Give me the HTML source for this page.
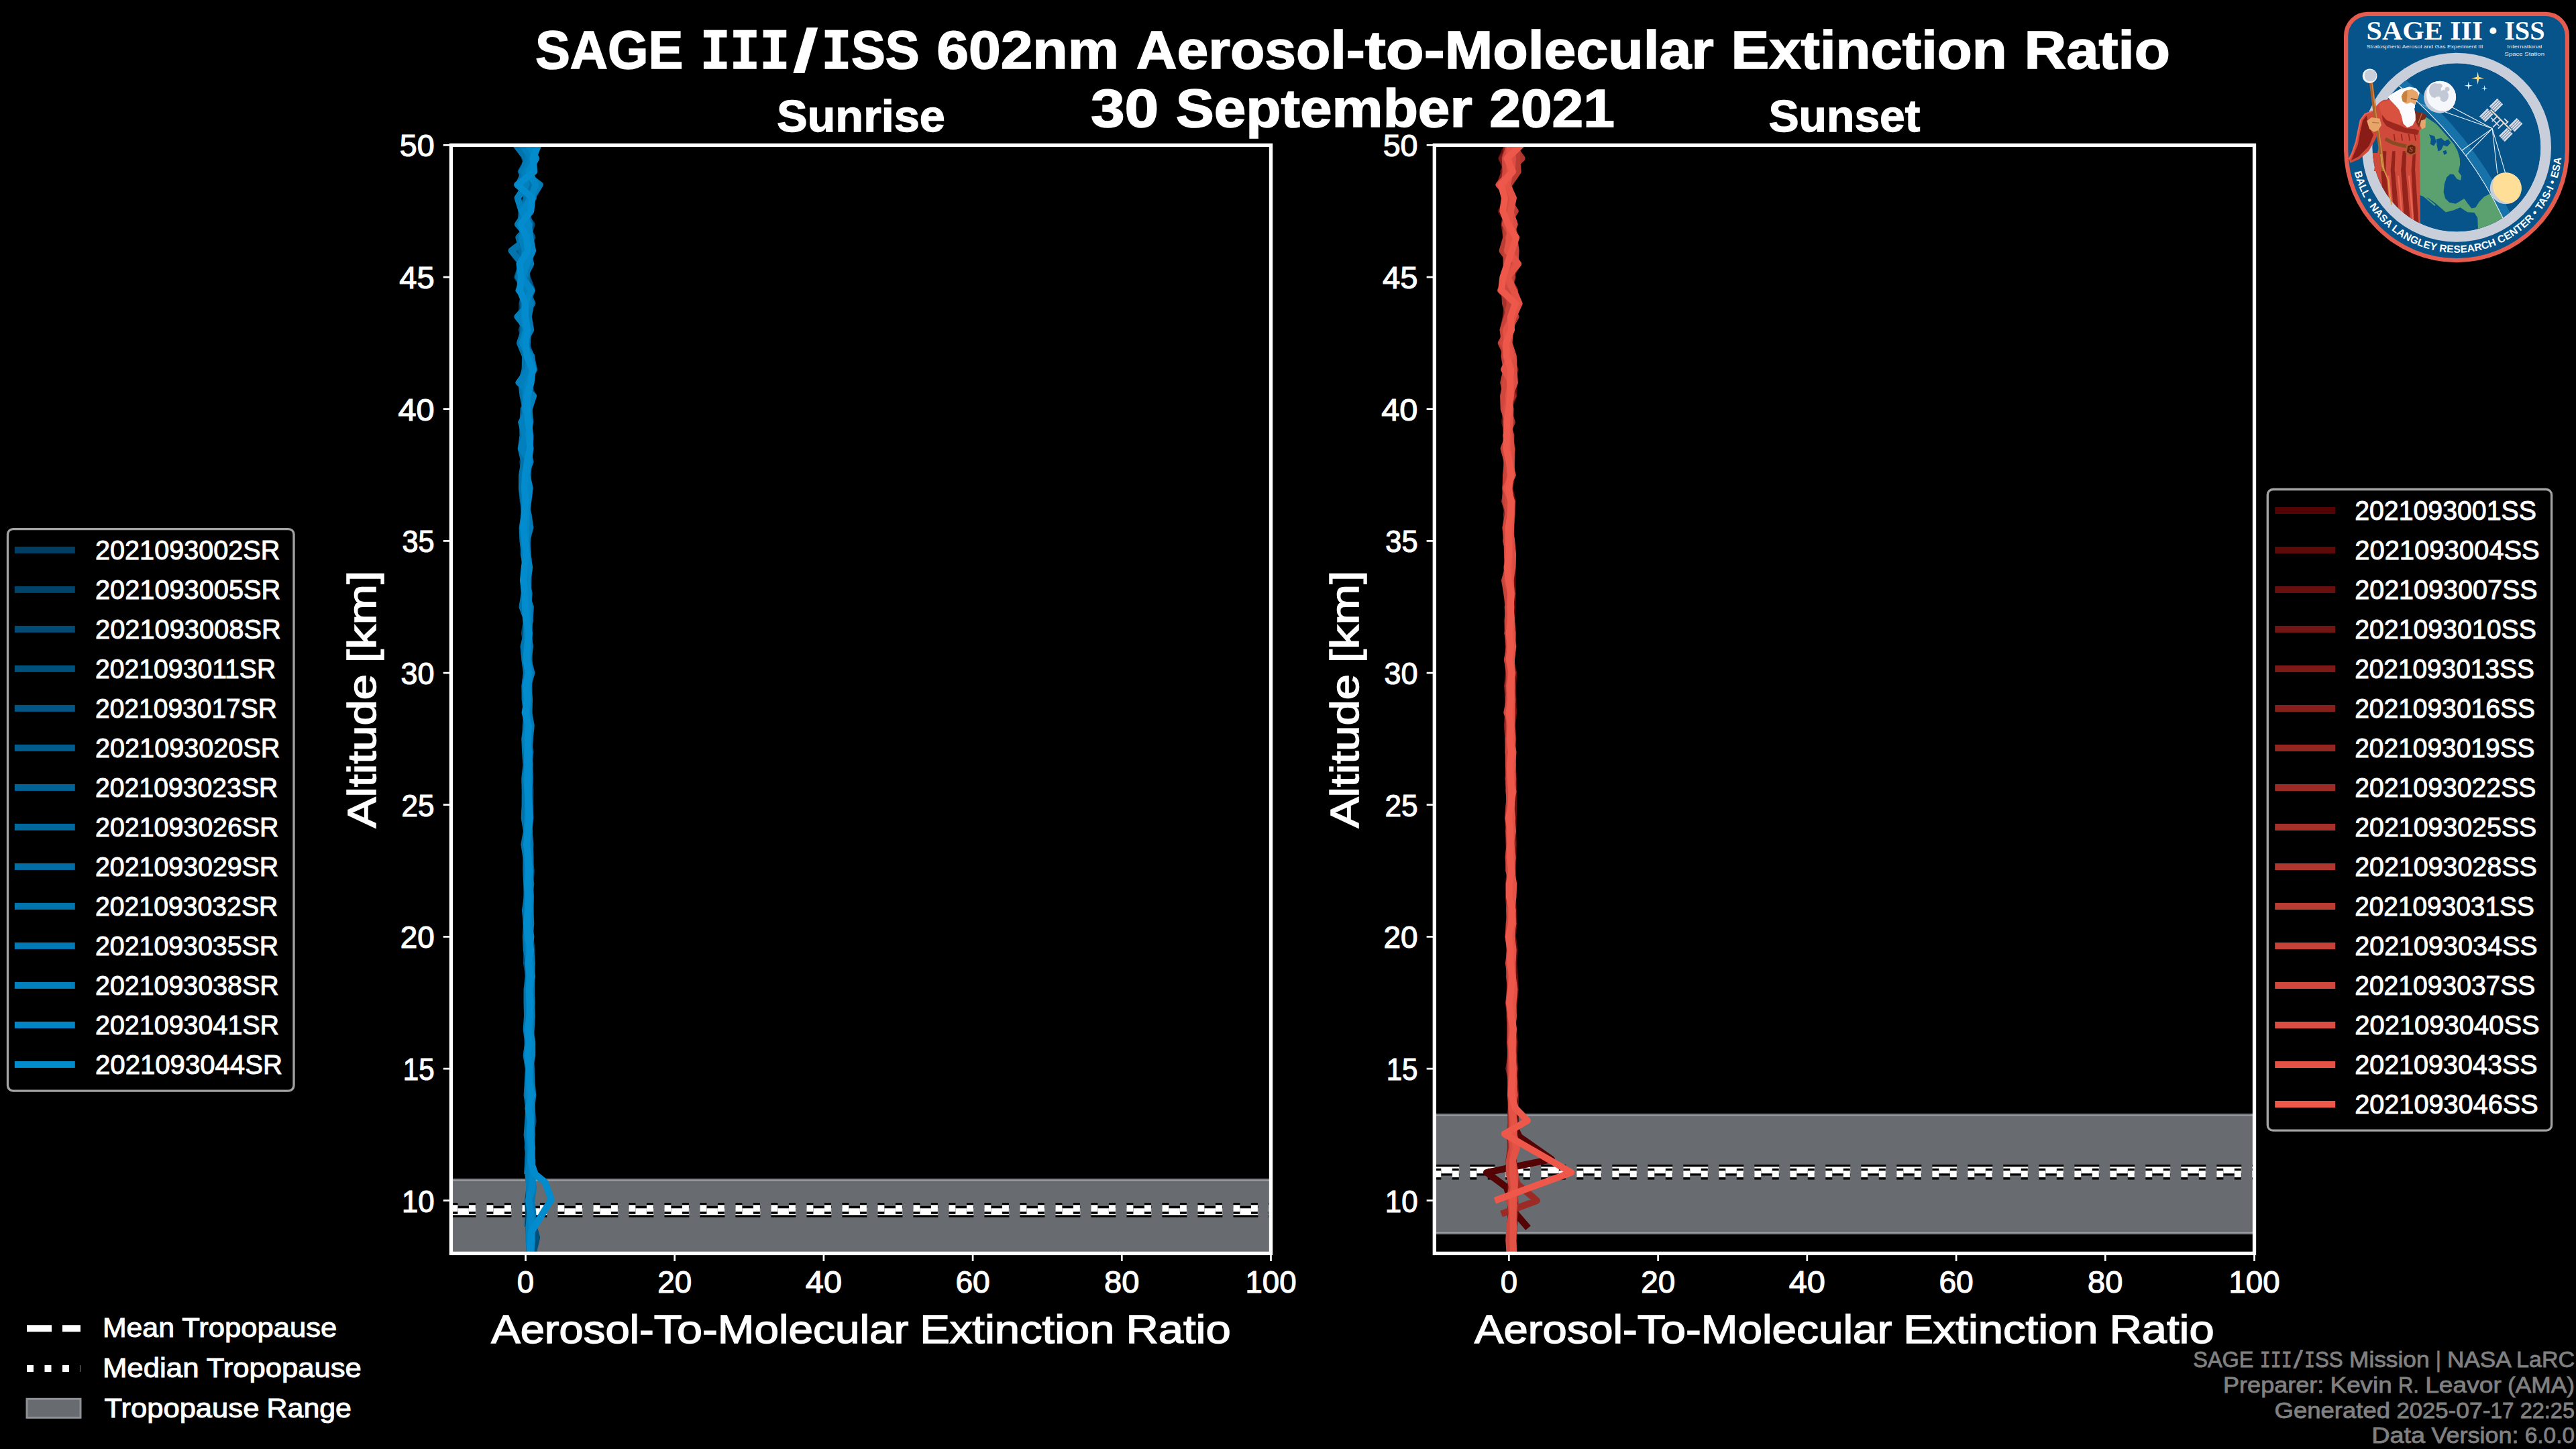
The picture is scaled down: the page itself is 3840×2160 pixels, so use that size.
<!DOCTYPE html>
<html lang="en"><head><meta charset="utf-8"><title>SAGE III/ISS 602nm Aerosol-to-Molecular Extinction Ratio</title>
<style>html,body{margin:0;padding:0;background:#000;overflow:hidden}svg{display:block}</style></head>
<body>
<svg width="3840" height="2160" viewBox="0 0 3840 2160" font-family='"Liberation Sans", sans-serif'>
<rect width="3840" height="2160" fill="#000"/>
<defs>
<clipPath id="c0"><rect x="672.4" y="216.4" width="1222.1" height="1652.0"/></clipPath>
<clipPath id="c1"><rect x="2138.3" y="216.4" width="1222.2" height="1652.0"/></clipPath>
</defs>
<g clip-path="url(#c0)">
<rect x="672.4" y="1756.8" width="1222.1" height="200" fill="#686b70"/>
<rect x="672.4" y="1758.5" width="1222.1" height="1.8" fill="#9da1a5"/>
<path d="M672.4 1806.2 H1894.5" stroke="#000" stroke-width="16.67" stroke-dasharray="37 16"/>
<path d="M672.4 1806.2 H1894.5" stroke="#fff" stroke-width="10" stroke-dasharray="37 16"/>
<path d="M672.4 1801.3 H1894.5" stroke="#000" stroke-width="16.67" stroke-dasharray="10 16.5"/>
<path d="M672.4 1801.3 H1894.5" stroke="#fff" stroke-width="10" stroke-dasharray="10 16.5"/>
<g fill="none" stroke-width="10" stroke-linejoin="round" stroke-linecap="butt">
<path d="M789.9 1868.4 L789.3 1848.7 L788.2 1829.1 L790.5 1809.4 L788.9 1789.7 L791.5 1770.1 L790.2 1750.4 L790.5 1730.7 L789.8 1711.1 L789.8 1691.4 L790.7 1671.7 L788.3 1652.1 L790.1 1632.4 L789.6 1612.7 L789.4 1593.1 L786.6 1573.4 L787.5 1553.7 L788.1 1534.1 L788.7 1514.4 L789.2 1494.7 L788.7 1475.1 L789.9 1455.4 L787.9 1435.7 L789.2 1416.1 L788.2 1396.4 L787.0 1376.7 L789.0 1357.1 L789.0 1337.4 L788.8 1317.7 L787.5 1298.1 L786.4 1278.4 L786.5 1258.7 L787.3 1239.1 L787.6 1219.4 L787.0 1199.7 L786.4 1180.1 L785.3 1160.4 L786.2 1140.7 L787.3 1121.1 L785.4 1101.4 L787.6 1081.7 L786.6 1062.1 L784.7 1042.4 L785.3 1022.7 L787.7 1003.1 L783.6 983.4 L785.4 963.7 L785.0 944.1 L785.1 924.4 L785.2 904.7 L784.9 885.1 L782.8 865.4 L786.0 845.7 L784.9 826.1 L784.1 806.4 L785.4 786.7 L785.2 767.1 L782.3 747.4 L781.9 727.7 L784.8 708.1 L783.8 688.4 L784.5 668.7 L781.3 649.1 L781.8 629.4 L784.5 609.7 L788.2 590.1 L779.2 570.4 L784.0 550.7 L787.2 531.1 L784.9 511.4 L786.2 491.7 L777.5 472.1 L778.3 452.4 L783.5 432.7 L777.7 413.1 L780.2 393.4 L782.5 373.7 L784.9 354.1 L784.8 334.4 L782.3 314.7 L788.6 295.1 L791.5 275.4 L784.5 255.7 L790.2 236.1 L787.8 216.4 L783.8 196.7" stroke="#003e64"/>
<path d="M793.0 1848.7 L791.6 1829.1 L792.3 1809.4 L791.3 1789.7 L794.1 1770.1 L791.1 1750.4 L792.2 1730.7 L793.2 1711.1 L791.1 1691.4 L794.6 1671.7 L792.8 1652.1 L792.0 1632.4 L792.2 1612.7 L792.3 1593.1 L790.8 1573.4 L792.6 1553.7 L791.0 1534.1 L791.5 1514.4 L792.6 1494.7 L791.4 1475.1 L791.5 1455.4 L792.0 1435.7 L792.9 1416.1 L790.2 1396.4 L789.1 1376.7 L790.2 1357.1 L791.1 1337.4 L790.3 1317.7 L791.9 1298.1 L788.9 1278.4 L790.6 1258.7 L789.0 1239.1 L789.2 1219.4 L790.1 1199.7 L790.5 1180.1 L789.6 1160.4 L789.7 1140.7 L789.2 1121.1 L788.9 1101.4 L790.7 1081.7 L788.8 1062.1 L788.9 1042.4 L788.5 1022.7 L789.3 1003.1 L788.7 983.4 L788.9 963.7 L789.7 944.1 L788.8 924.4 L787.1 904.7 L787.3 885.1 L786.9 865.4 L788.9 845.7 L786.6 826.1 L786.3 806.4 L788.7 786.7 L784.3 767.1 L783.3 747.4 L786.8 727.7 L787.2 708.1 L787.9 688.4 L787.3 668.7 L787.5 649.1 L787.0 629.4 L787.2 609.7 L793.7 590.1 L787.4 570.4 L788.8 550.7 L789.1 531.1 L783.3 511.4 L787.2 491.7 L777.4 472.1 L786.8 452.4 L788.4 432.7 L778.8 413.1 L786.3 393.4 L785.4 373.7 L787.0 354.1 L792.6 334.4 L777.4 314.7 L788.3 295.1 L786.6 275.4 L787.4 255.7 L795.6 236.1 L776.0 216.4 L798.4 196.7" stroke="#00446c"/>
<path d="M786.9 1829.1 L787.8 1809.4 L787.1 1789.7 L789.6 1770.1 L787.7 1750.4 L787.7 1730.7 L788.2 1711.1 L787.5 1691.4 L788.4 1671.7 L788.9 1652.1 L788.2 1632.4 L786.8 1612.7 L789.4 1593.1 L784.8 1573.4 L787.6 1553.7 L786.5 1534.1 L787.1 1514.4 L787.5 1494.7 L786.8 1475.1 L788.0 1455.4 L784.9 1435.7 L785.4 1416.1 L786.3 1396.4 L784.5 1376.7 L784.5 1357.1 L785.1 1337.4 L786.9 1317.7 L786.5 1298.1 L786.3 1278.4 L783.8 1258.7 L785.3 1239.1 L783.9 1219.4 L785.4 1199.7 L786.1 1180.1 L783.2 1160.4 L786.0 1140.7 L785.1 1121.1 L783.8 1101.4 L783.5 1081.7 L785.5 1062.1 L783.7 1042.4 L782.5 1022.7 L784.8 1003.1 L783.6 983.4 L785.0 963.7 L781.9 944.1 L784.8 924.4 L784.2 904.7 L784.4 885.1 L781.9 865.4 L782.2 845.7 L783.2 826.1 L781.2 806.4 L781.9 786.7 L784.6 767.1 L779.6 747.4 L778.0 727.7 L781.1 708.1 L779.4 688.4 L784.7 668.7 L782.1 649.1 L780.2 629.4 L783.4 609.7 L785.3 590.1 L781.9 570.4 L788.9 550.7 L784.3 531.1 L782.1 511.4 L787.1 491.7 L785.8 472.1 L781.3 452.4 L783.3 432.7 L771.2 413.1 L777.7 393.4 L769.7 373.7 L783.2 354.1 L777.1 334.4 L779.2 314.7 L784.0 295.1 L783.0 275.4 L777.2 255.7 L787.0 236.1 L792.0 216.4 L788.7 196.7" stroke="#004a74"/>
<path d="M794.6 1868.4 L800.2 1844.8 L793.5 1821.2 L791.5 1789.7 L790.5 1770.1 L790.7 1750.4 L792.0 1730.7 L791.7 1711.1 L790.9 1691.4 L792.7 1671.7 L791.2 1652.1 L789.7 1632.4 L789.1 1612.7 L789.8 1593.1 L790.3 1573.4 L789.7 1553.7 L789.4 1534.1 L789.7 1514.4 L788.9 1494.7 L790.0 1475.1 L789.8 1455.4 L790.2 1435.7 L788.0 1416.1 L789.6 1396.4 L788.3 1376.7 L787.1 1357.1 L790.6 1337.4 L789.0 1317.7 L787.2 1298.1 L787.6 1278.4 L788.5 1258.7 L788.3 1239.1 L789.3 1219.4 L789.0 1199.7 L788.8 1180.1 L787.8 1160.4 L789.4 1140.7 L788.4 1121.1 L787.9 1101.4 L786.8 1081.7 L788.6 1062.1 L788.6 1042.4 L786.3 1022.7 L787.5 1003.1 L788.7 983.4 L785.2 963.7 L787.0 944.1 L789.8 924.4 L785.2 904.7 L787.1 885.1 L787.7 865.4 L786.4 845.7 L786.3 826.1 L785.7 806.4 L784.0 786.7 L786.1 767.1 L784.0 747.4 L786.5 727.7 L785.2 708.1 L785.8 688.4 L784.6 668.7 L784.2 649.1 L787.1 629.4 L787.2 609.7 L784.6 590.1 L782.9 570.4 L796.4 550.7 L791.4 531.1 L784.5 511.4 L777.7 491.7 L786.3 472.1 L788.7 452.4 L789.9 432.7 L783.0 413.1 L784.9 393.4 L782.8 373.7 L774.4 354.1 L790.1 334.4 L784.2 314.7 L785.2 295.1 L792.9 275.4 L792.2 255.7 L782.4 236.1 L783.5 216.4 L793.6 196.7" stroke="#00507c"/>
<path d="M789.5 1789.7 L790.4 1770.1 L792.8 1750.4 L791.5 1730.7 L789.1 1711.1 L788.9 1691.4 L793.1 1671.7 L791.4 1652.1 L792.0 1632.4 L790.8 1612.7 L788.9 1593.1 L789.0 1573.4 L787.5 1553.7 L788.9 1534.1 L789.8 1514.4 L790.3 1494.7 L788.7 1475.1 L790.2 1455.4 L789.7 1435.7 L790.1 1416.1 L789.3 1396.4 L788.5 1376.7 L788.0 1357.1 L790.1 1337.4 L788.7 1317.7 L787.9 1298.1 L787.2 1278.4 L787.6 1258.7 L788.1 1239.1 L788.1 1219.4 L787.6 1199.7 L787.7 1180.1 L786.8 1160.4 L786.1 1140.7 L787.5 1121.1 L787.9 1101.4 L788.7 1081.7 L786.8 1062.1 L787.1 1042.4 L785.0 1022.7 L785.4 1003.1 L786.1 983.4 L785.4 963.7 L786.7 944.1 L785.3 924.4 L782.5 904.7 L784.5 885.1 L786.9 865.4 L785.5 845.7 L783.3 826.1 L783.0 806.4 L785.4 786.7 L786.3 767.1 L783.2 747.4 L787.1 727.7 L786.0 708.1 L785.5 688.4 L787.3 668.7 L788.1 649.1 L786.8 629.4 L789.0 609.7 L783.2 590.1 L784.1 570.4 L790.4 550.7 L786.5 531.1 L785.5 511.4 L787.5 491.7 L786.8 472.1 L785.6 452.4 L793.0 432.7 L785.7 413.1 L783.7 393.4 L780.4 373.7 L793.3 354.1 L783.4 334.4 L786.3 314.7 L792.5 295.1 L786.1 275.4 L776.8 255.7 L789.8 236.1 L788.2 216.4 L797.7 196.7" stroke="#015685"/>
<path d="M791.4 1868.4 L792.2 1848.7 L790.8 1829.1 L793.3 1809.4 L791.0 1789.7 L792.2 1770.1 L792.5 1750.4 L790.4 1730.7 L790.7 1711.1 L791.3 1691.4 L790.8 1671.7 L791.0 1652.1 L789.1 1632.4 L790.3 1612.7 L791.5 1593.1 L790.4 1573.4 L790.7 1553.7 L790.4 1534.1 L789.4 1514.4 L792.8 1494.7 L791.1 1475.1 L792.6 1455.4 L789.4 1435.7 L790.6 1416.1 L787.7 1396.4 L790.2 1376.7 L790.5 1357.1 L788.3 1337.4 L789.6 1317.7 L790.5 1298.1 L787.0 1278.4 L786.6 1258.7 L788.1 1239.1 L788.3 1219.4 L787.1 1199.7 L788.7 1180.1 L788.2 1160.4 L789.2 1140.7 L788.9 1121.1 L789.6 1101.4 L790.6 1081.7 L786.7 1062.1 L787.2 1042.4 L785.9 1022.7 L787.2 1003.1 L787.0 983.4 L787.5 963.7 L787.5 944.1 L785.7 924.4 L785.1 904.7 L786.8 885.1 L785.8 865.4 L786.6 845.7 L786.0 826.1 L784.0 806.4 L786.7 786.7 L787.2 767.1 L783.8 747.4 L784.3 727.7 L785.4 708.1 L780.9 688.4 L784.9 668.7 L785.5 649.1 L781.6 629.4 L788.0 609.7 L787.7 590.1 L781.5 570.4 L788.5 550.7 L787.4 531.1 L784.6 511.4 L788.7 491.7 L784.5 472.1 L784.1 452.4 L783.7 432.7 L781.6 413.1 L788.8 393.4 L782.5 373.7 L779.6 354.1 L779.5 334.4 L781.4 314.7 L785.0 295.1 L781.3 275.4 L783.2 255.7 L787.1 236.1 L787.9 216.4 L795.6 196.7" stroke="#015c8d"/>
<path d="M793.5 1809.4 L788.5 1789.7 L791.6 1770.1 L789.8 1750.4 L790.6 1730.7 L786.6 1711.1 L788.3 1691.4 L790.6 1671.7 L790.0 1652.1 L791.8 1632.4 L789.3 1612.7 L790.2 1593.1 L788.6 1573.4 L789.7 1553.7 L789.1 1534.1 L788.6 1514.4 L789.3 1494.7 L787.2 1475.1 L790.6 1455.4 L787.0 1435.7 L788.9 1416.1 L790.0 1396.4 L787.0 1376.7 L787.3 1357.1 L789.6 1337.4 L787.6 1317.7 L786.7 1298.1 L787.1 1278.4 L787.2 1258.7 L787.9 1239.1 L785.9 1219.4 L788.6 1199.7 L788.4 1180.1 L785.9 1160.4 L786.7 1140.7 L785.5 1121.1 L787.4 1101.4 L786.3 1081.7 L786.8 1062.1 L785.1 1042.4 L784.1 1022.7 L787.1 1003.1 L786.6 983.4 L785.3 963.7 L783.9 944.1 L786.6 924.4 L784.4 904.7 L785.1 885.1 L786.0 865.4 L786.5 845.7 L783.2 826.1 L786.2 806.4 L783.6 786.7 L785.9 767.1 L780.7 747.4 L783.3 727.7 L780.0 708.1 L788.5 688.4 L788.3 668.7 L780.2 649.1 L779.3 629.4 L780.6 609.7 L788.7 590.1 L782.0 570.4 L786.9 550.7 L785.3 531.1 L780.4 511.4 L780.3 491.7 L782.6 472.1 L779.4 452.4 L781.8 432.7 L781.1 413.1 L785.7 393.4 L777.9 373.7 L776.4 354.1 L784.7 334.4 L778.6 314.7 L795.1 295.1 L789.2 275.4 L781.1 255.7 L785.0 236.1 L781.0 216.4 L784.6 196.7" stroke="#016295"/>
<path d="M789.7 1868.4 L789.9 1848.7 L788.9 1829.1 L793.5 1809.4 L788.1 1789.7 L790.5 1770.1 L793.0 1750.4 L787.3 1730.7 L788.8 1711.1 L789.5 1691.4 L790.6 1671.7 L789.9 1652.1 L789.0 1632.4 L789.4 1612.7 L788.9 1593.1 L788.7 1573.4 L786.5 1553.7 L787.6 1534.1 L788.9 1514.4 L787.6 1494.7 L787.3 1475.1 L790.1 1455.4 L787.5 1435.7 L789.5 1416.1 L788.6 1396.4 L787.7 1376.7 L788.0 1357.1 L788.2 1337.4 L786.0 1317.7 L787.7 1298.1 L787.4 1278.4 L786.0 1258.7 L787.1 1239.1 L787.8 1219.4 L785.6 1199.7 L787.4 1180.1 L788.2 1160.4 L785.8 1140.7 L786.3 1121.1 L785.7 1101.4 L789.1 1081.7 L786.5 1062.1 L786.8 1042.4 L784.2 1022.7 L786.4 1003.1 L785.1 983.4 L783.2 963.7 L786.8 944.1 L786.8 924.4 L782.2 904.7 L785.8 885.1 L783.8 865.4 L785.7 845.7 L784.6 826.1 L780.7 806.4 L783.3 786.7 L787.3 767.1 L780.8 747.4 L781.4 727.7 L780.7 708.1 L781.8 688.4 L786.0 668.7 L787.9 649.1 L784.7 629.4 L786.1 609.7 L792.3 590.1 L781.9 570.4 L784.9 550.7 L788.4 531.1 L783.1 511.4 L780.5 491.7 L777.8 472.1 L786.7 452.4 L783.3 432.7 L773.8 413.1 L782.6 393.4 L776.4 373.7 L783.3 354.1 L783.4 334.4 L780.7 314.7 L784.8 295.1 L791.2 275.4 L790.2 255.7 L785.6 236.1 L790.7 216.4 L785.6 196.7" stroke="#01689d"/>
<path d="M791.0 1868.4 L791.9 1848.7 L788.5 1829.1 L791.7 1809.4 L789.9 1789.7 L789.4 1770.1 L790.5 1750.4 L789.4 1730.7 L790.6 1711.1 L788.7 1691.4 L788.7 1671.7 L790.2 1652.1 L790.3 1632.4 L789.1 1612.7 L790.7 1593.1 L788.2 1573.4 L788.7 1553.7 L790.0 1534.1 L787.7 1514.4 L788.7 1494.7 L789.2 1475.1 L791.2 1455.4 L788.8 1435.7 L789.9 1416.1 L787.6 1396.4 L788.5 1376.7 L790.3 1357.1 L788.2 1337.4 L791.4 1317.7 L787.7 1298.1 L787.6 1278.4 L787.6 1258.7 L789.3 1239.1 L786.1 1219.4 L784.7 1199.7 L788.1 1180.1 L787.7 1160.4 L788.0 1140.7 L790.3 1121.1 L786.9 1101.4 L788.3 1081.7 L788.0 1062.1 L786.9 1042.4 L787.9 1022.7 L785.6 1003.1 L785.4 983.4 L781.6 963.7 L786.8 944.1 L785.9 924.4 L786.7 904.7 L788.7 885.1 L784.7 865.4 L785.4 845.7 L784.0 826.1 L782.4 806.4 L783.3 786.7 L786.6 767.1 L782.8 747.4 L784.4 727.7 L784.1 708.1 L787.6 688.4 L787.2 668.7 L783.7 649.1 L786.2 629.4 L785.7 609.7 L782.2 590.1 L789.4 570.4 L789.7 550.7 L783.5 531.1 L786.1 511.4 L786.7 491.7 L776.6 472.1 L793.4 452.4 L784.6 432.7 L784.9 413.1 L785.4 393.4 L779.1 373.7 L773.3 354.1 L790.2 334.4 L782.1 314.7 L785.9 295.1 L788.0 275.4 L783.1 255.7 L793.0 236.1 L783.6 216.4 L791.0 196.7" stroke="#016ea5"/>
<path d="M786.0 1750.4 L787.2 1730.7 L787.9 1711.1 L785.6 1691.4 L787.1 1671.7 L788.3 1652.1 L785.6 1632.4 L786.8 1612.7 L787.8 1593.1 L784.7 1573.4 L787.1 1553.7 L784.6 1534.1 L786.0 1514.4 L785.5 1494.7 L785.5 1475.1 L787.7 1455.4 L788.2 1435.7 L784.7 1416.1 L783.8 1396.4 L784.9 1376.7 L782.9 1357.1 L785.8 1337.4 L785.2 1317.7 L784.2 1298.1 L784.4 1278.4 L781.4 1258.7 L785.0 1239.1 L781.7 1219.4 L782.6 1199.7 L782.7 1180.1 L782.2 1160.4 L784.4 1140.7 L783.1 1121.1 L782.2 1101.4 L784.8 1081.7 L785.0 1062.1 L782.6 1042.4 L782.4 1022.7 L784.9 1003.1 L782.3 983.4 L780.5 963.7 L785.3 944.1 L785.7 924.4 L778.5 904.7 L781.6 885.1 L781.5 865.4 L783.4 845.7 L781.9 826.1 L779.4 806.4 L778.6 786.7 L781.7 767.1 L780.9 747.4 L777.9 727.7 L778.1 708.1 L781.4 688.4 L776.7 668.7 L779.5 649.1 L779.0 629.4 L783.7 609.7 L779.6 590.1 L777.2 570.4 L782.6 550.7 L783.1 531.1 L775.0 511.4 L781.4 491.7 L782.9 472.1 L787.8 452.4 L787.4 432.7 L772.7 413.1 L778.2 393.4 L762.4 373.7 L788.4 354.1 L776.6 334.4 L777.8 314.7 L786.9 295.1 L773.3 275.4 L781.7 255.7 L784.5 236.1 L769.5 216.4 L789.4 196.7" stroke="#0174ad"/>
<path d="M789.6 1868.4 L793.2 1848.7 L791.3 1829.1 L794.4 1809.4 L792.3 1789.7 L794.9 1770.1 L792.2 1750.4 L793.4 1730.7 L791.6 1711.1 L793.0 1691.4 L792.0 1671.7 L792.0 1652.1 L794.3 1632.4 L792.4 1612.7 L791.4 1593.1 L789.0 1573.4 L790.4 1553.7 L791.7 1534.1 L792.9 1514.4 L792.1 1494.7 L792.0 1475.1 L792.0 1455.4 L792.9 1435.7 L791.0 1416.1 L789.7 1396.4 L791.3 1376.7 L790.3 1357.1 L790.7 1337.4 L789.6 1317.7 L790.2 1298.1 L790.5 1278.4 L789.8 1258.7 L788.3 1239.1 L790.3 1219.4 L789.7 1199.7 L788.0 1180.1 L789.8 1160.4 L788.8 1140.7 L788.4 1121.1 L789.7 1101.4 L791.8 1081.7 L787.9 1062.1 L789.1 1042.4 L786.6 1022.7 L792.4 1003.1 L787.2 983.4 L790.0 963.7 L786.7 944.1 L789.6 924.4 L790.8 904.7 L783.5 885.1 L786.0 865.4 L788.6 845.7 L786.6 826.1 L784.6 806.4 L790.4 786.7 L787.5 767.1 L781.1 747.4 L788.3 727.7 L782.2 708.1 L790.4 688.4 L786.2 668.7 L786.6 649.1 L790.3 629.4 L788.5 609.7 L783.0 590.1 L779.9 570.4 L794.7 550.7 L792.3 531.1 L780.2 511.4 L791.2 491.7 L787.7 472.1 L791.4 452.4 L773.4 432.7 L781.0 413.1 L791.3 393.4 L786.0 373.7 L788.8 354.1 L771.9 334.4 L785.0 314.7 L792.7 295.1 L804.8 275.4 L778.1 255.7 L788.3 236.1 L788.3 216.4 L799.8 196.7" stroke="#027ab6"/>
<path d="M790.8 1868.4 L788.1 1848.7 L788.5 1829.1 L790.1 1809.4 L789.0 1789.7 L789.3 1770.1 L787.4 1750.4 L790.8 1730.7 L789.7 1711.1 L788.3 1691.4 L790.5 1671.7 L790.7 1652.1 L787.7 1632.4 L788.7 1612.7 L789.4 1593.1 L788.4 1573.4 L788.1 1553.7 L785.5 1534.1 L790.5 1514.4 L789.1 1494.7 L788.4 1475.1 L788.8 1455.4 L788.5 1435.7 L788.0 1416.1 L786.1 1396.4 L786.2 1376.7 L786.4 1357.1 L787.3 1337.4 L785.8 1317.7 L788.5 1298.1 L784.8 1278.4 L787.4 1258.7 L785.6 1239.1 L787.3 1219.4 L788.5 1199.7 L786.7 1180.1 L784.7 1160.4 L786.4 1140.7 L786.2 1121.1 L783.2 1101.4 L786.2 1081.7 L786.2 1062.1 L784.9 1042.4 L785.0 1022.7 L787.3 1003.1 L786.1 983.4 L786.7 963.7 L785.6 944.1 L785.0 924.4 L784.4 904.7 L784.2 885.1 L783.3 865.4 L784.5 845.7 L780.9 826.1 L782.2 806.4 L783.5 786.7 L782.4 767.1 L781.7 747.4 L784.6 727.7 L783.1 708.1 L790.2 688.4 L777.2 668.7 L782.6 649.1 L777.2 629.4 L788.7 609.7 L795.1 590.1 L773.5 570.4 L787.6 550.7 L788.6 531.1 L779.5 511.4 L787.0 491.7 L771.4 472.1 L789.6 452.4 L784.1 432.7 L779.8 413.1 L780.1 393.4 L782.7 373.7 L777.8 354.1 L785.3 334.4 L777.7 314.7 L771.6 295.1 L784.7 275.4 L783.1 255.7 L793.2 236.1 L778.6 216.4 L790.1 196.7" stroke="#0280be"/>
<path d="M791.3 1868.4 L792.8 1848.7 L792.8 1829.1 L791.4 1809.4 L787.9 1789.7 L793.4 1770.1 L793.7 1750.4 L792.5 1730.7 L792.3 1711.1 L790.1 1691.4 L791.1 1671.7 L792.4 1652.1 L789.6 1632.4 L788.1 1612.7 L789.1 1593.1 L793.2 1573.4 L793.2 1553.7 L789.4 1534.1 L789.6 1514.4 L790.9 1494.7 L789.1 1475.1 L793.0 1455.4 L789.9 1435.7 L788.9 1416.1 L791.4 1396.4 L788.2 1376.7 L789.5 1357.1 L790.1 1337.4 L788.9 1317.7 L790.0 1298.1 L787.6 1278.4 L785.6 1258.7 L785.6 1239.1 L786.8 1219.4 L787.2 1199.7 L788.3 1180.1 L787.8 1160.4 L789.0 1140.7 L788.1 1121.1 L786.4 1101.4 L787.9 1081.7 L784.6 1062.1 L787.2 1042.4 L787.5 1022.7 L788.9 1003.1 L786.7 983.4 L786.9 963.7 L788.1 944.1 L787.4 924.4 L787.6 904.7 L787.5 885.1 L786.1 865.4 L789.1 845.7 L784.7 826.1 L784.1 806.4 L783.8 786.7 L784.6 767.1 L787.3 747.4 L789.7 727.7 L785.5 708.1 L788.0 688.4 L790.5 668.7 L787.8 649.1 L789.4 629.4 L782.4 609.7 L784.5 590.1 L787.2 570.4 L795.2 550.7 L788.7 531.1 L778.7 511.4 L784.5 491.7 L781.0 472.1 L782.6 452.4 L792.3 432.7 L778.0 413.1 L785.5 393.4 L794.1 373.7 L790.2 354.1 L788.0 334.4 L778.8 314.7 L791.4 295.1 L798.5 275.4 L788.2 255.7 L799.2 236.1 L787.8 216.4 L796.3 196.7" stroke="#0286c6"/>
<path d="M789.6 1868.4 L791.8 1836.9 L821.8 1787.8 L812.4 1762.2 L797.9 1750.4 L790.9 1730.7 L792.7 1711.1 L790.5 1691.4 L791.1 1671.7 L787.4 1652.1 L792.4 1632.4 L789.4 1612.7 L789.1 1593.1 L786.4 1573.4 L788.9 1553.7 L787.3 1534.1 L789.3 1514.4 L789.8 1494.7 L788.8 1475.1 L790.1 1455.4 L787.3 1435.7 L791.2 1416.1 L787.0 1396.4 L784.9 1376.7 L787.4 1357.1 L787.4 1337.4 L786.4 1317.7 L787.5 1298.1 L787.6 1278.4 L785.0 1258.7 L787.3 1239.1 L789.4 1219.4 L788.0 1199.7 L786.6 1180.1 L786.4 1160.4 L786.5 1140.7 L786.3 1121.1 L787.3 1101.4 L787.4 1081.7 L782.6 1062.1 L786.0 1042.4 L783.9 1022.7 L787.7 1003.1 L784.4 983.4 L786.0 963.7 L788.8 944.1 L784.1 924.4 L782.9 904.7 L782.5 885.1 L779.9 865.4 L781.8 845.7 L785.0 826.1 L782.0 806.4 L780.0 786.7 L781.5 767.1 L783.7 747.4 L781.7 727.7 L783.0 708.1 L785.9 688.4 L789.7 668.7 L790.3 649.1 L787.5 629.4 L786.2 609.7 L786.3 590.1 L791.6 570.4 L793.9 550.7 L785.3 531.1 L783.5 511.4 L786.2 491.7 L783.2 472.1 L782.9 452.4 L774.9 432.7 L776.9 413.1 L774.4 393.4 L787.2 373.7 L784.7 354.1 L776.1 334.4 L791.3 314.7 L793.5 295.1 L771.1 275.4 L796.2 255.7 L794.5 236.1 L802.3 216.4 L780.5 196.7" stroke="#028cce"/>
</g>
</g>
<g clip-path="url(#c1)">
<rect x="2138.3" y="1659.9" width="1222.2" height="180.3" fill="#686b70"/>
<rect x="2138.3" y="1661.6" width="1222.2" height="1.8" fill="#9da1a5"/>
<rect x="2138.3" y="1836.7" width="1222.2" height="1.8" fill="#9da1a5"/>
<path d="M2138.3 1744.25 H3360.5" stroke="#000" stroke-width="16.67" stroke-dasharray="37 16"/>
<path d="M2138.3 1744.25 H3360.5" stroke="#fff" stroke-width="10" stroke-dasharray="37 16"/>
<path d="M2138.3 1750.1 H3360.5" stroke="#000" stroke-width="16.67" stroke-dasharray="10 16.5"/>
<path d="M2138.3 1750.1 H3360.5" stroke="#fff" stroke-width="10" stroke-dasharray="10 16.5"/>
<g fill="none" stroke-width="10" stroke-linejoin="round" stroke-linecap="butt">
<path d="M2278.0 1830.6 L2256.0 1805.0 L2246.0 1770.0 L2216.0 1747.8 L2313.0 1728.0 L2265.0 1694.7 L2252.0 1668.0 L2254.3 1652.1 L2253.0 1632.4 L2252.6 1612.7 L2252.5 1593.1 L2254.8 1573.4 L2252.6 1553.7 L2251.5 1534.1 L2250.0 1514.4 L2251.6 1494.7 L2252.5 1475.1 L2251.7 1455.4 L2250.0 1435.7 L2252.5 1416.1 L2251.0 1396.4 L2252.0 1376.7 L2251.3 1357.1 L2249.1 1337.4 L2252.5 1317.7 L2250.0 1298.1 L2250.2 1278.4 L2249.4 1258.7 L2250.7 1239.1 L2248.6 1219.4 L2251.2 1199.7 L2253.4 1180.1 L2249.8 1160.4 L2251.1 1140.7 L2249.1 1121.1 L2249.4 1101.4 L2250.3 1081.7 L2249.7 1062.1 L2250.3 1042.4 L2249.1 1022.7 L2249.7 1003.1 L2248.9 983.4 L2249.1 963.7 L2251.1 944.1 L2248.7 924.4 L2249.9 904.7 L2249.1 885.1 L2249.0 865.4 L2247.5 845.7 L2249.2 826.1 L2248.0 806.4 L2250.2 786.7 L2249.9 767.1 L2249.1 747.4 L2245.6 727.7 L2249.0 708.1 L2248.2 688.4 L2249.9 668.7 L2246.0 649.1 L2247.4 629.4 L2246.1 609.7 L2247.5 590.1 L2249.7 570.4 L2246.9 550.7 L2246.6 531.1 L2241.7 511.4 L2243.3 491.7 L2250.0 472.1 L2256.3 452.4 L2250.4 432.7 L2252.2 413.1 L2253.5 393.4 L2248.3 373.7 L2248.9 354.1 L2253.7 334.4 L2252.3 314.7 L2247.7 295.1 L2240.1 275.4 L2257.3 255.7 L2248.5 236.1 L2255.3 216.4 L2253.5 196.7" stroke="#540404"/>
<path d="M2254.3 1868.4 L2253.5 1848.7 L2252.9 1829.1 L2253.5 1809.4 L2252.6 1789.7 L2252.6 1770.1 L2252.7 1750.4 L2251.8 1730.7 L2254.2 1711.1 L2253.5 1691.4 L2253.4 1671.7 L2254.4 1652.1 L2251.8 1632.4 L2253.5 1612.7 L2253.9 1593.1 L2252.6 1573.4 L2251.4 1553.7 L2251.5 1534.1 L2251.3 1514.4 L2252.1 1494.7 L2253.8 1475.1 L2251.3 1455.4 L2250.2 1435.7 L2253.0 1416.1 L2250.5 1396.4 L2249.3 1376.7 L2252.0 1357.1 L2252.7 1337.4 L2252.9 1317.7 L2250.5 1298.1 L2250.2 1278.4 L2250.9 1258.7 L2253.0 1239.1 L2250.0 1219.4 L2251.3 1199.7 L2252.2 1180.1 L2249.9 1160.4 L2252.2 1140.7 L2249.7 1121.1 L2249.4 1101.4 L2250.5 1081.7 L2251.2 1062.1 L2250.7 1042.4 L2249.5 1022.7 L2249.1 1003.1 L2248.0 983.4 L2249.4 963.7 L2249.1 944.1 L2249.9 924.4 L2249.1 904.7 L2250.1 885.1 L2248.4 865.4 L2247.9 845.7 L2248.5 826.1 L2248.7 806.4 L2250.0 786.7 L2248.7 767.1 L2248.7 747.4 L2244.8 727.7 L2250.6 708.1 L2250.1 688.4 L2247.0 668.7 L2245.9 649.1 L2244.0 629.4 L2245.6 609.7 L2247.5 590.1 L2254.5 570.4 L2247.2 550.7 L2246.2 531.1 L2237.8 511.4 L2248.5 491.7 L2249.0 472.1 L2247.2 452.4 L2248.2 432.7 L2243.7 413.1 L2263.1 393.4 L2250.1 373.7 L2250.5 354.1 L2250.4 334.4 L2237.6 314.7 L2248.6 295.1 L2236.6 275.4 L2252.1 255.7 L2238.3 236.1 L2247.3 216.4 L2255.5 196.7" stroke="#5e0a09"/>
<path d="M2256.0 1848.7 L2256.4 1829.1 L2258.6 1809.4 L2258.2 1789.7 L2257.4 1770.1 L2257.2 1750.4 L2255.8 1730.7 L2257.2 1711.1 L2257.2 1691.4 L2259.4 1671.7 L2258.8 1652.1 L2259.2 1632.4 L2257.7 1612.7 L2257.7 1593.1 L2256.9 1573.4 L2257.8 1553.7 L2256.0 1534.1 L2254.4 1514.4 L2257.2 1494.7 L2258.7 1475.1 L2257.8 1455.4 L2256.3 1435.7 L2257.6 1416.1 L2254.9 1396.4 L2256.3 1376.7 L2255.9 1357.1 L2254.7 1337.4 L2255.4 1317.7 L2254.9 1298.1 L2255.4 1278.4 L2255.8 1258.7 L2255.3 1239.1 L2255.7 1219.4 L2256.3 1199.7 L2256.3 1180.1 L2256.0 1160.4 L2254.7 1140.7 L2253.4 1121.1 L2255.4 1101.4 L2254.2 1081.7 L2256.1 1062.1 L2255.4 1042.4 L2255.1 1022.7 L2256.3 1003.1 L2251.6 983.4 L2255.6 963.7 L2253.9 944.1 L2253.5 924.4 L2254.0 904.7 L2255.0 885.1 L2254.2 865.4 L2254.3 845.7 L2251.5 826.1 L2252.5 806.4 L2251.0 786.7 L2254.1 767.1 L2254.8 747.4 L2250.6 727.7 L2253.4 708.1 L2253.0 688.4 L2254.1 668.7 L2250.1 649.1 L2249.7 629.4 L2248.5 609.7 L2256.2 590.1 L2257.0 570.4 L2251.2 550.7 L2253.8 531.1 L2249.7 511.4 L2250.0 491.7 L2252.8 472.1 L2256.0 452.4 L2248.3 432.7 L2251.8 413.1 L2262.1 393.4 L2253.1 373.7 L2253.6 354.1 L2255.2 334.4 L2251.1 314.7 L2255.6 295.1 L2245.1 275.4 L2255.4 255.7 L2253.7 236.1 L2252.7 216.4 L2251.0 196.7" stroke="#690f0d"/>
<path d="M2251.5 1868.4 L2253.1 1848.7 L2250.8 1829.1 L2252.9 1809.4 L2252.2 1789.7 L2253.0 1770.1 L2253.2 1750.4 L2252.8 1730.7 L2253.6 1711.1 L2253.0 1691.4 L2253.0 1671.7 L2253.4 1652.1 L2253.5 1632.4 L2252.7 1612.7 L2252.1 1593.1 L2251.9 1573.4 L2252.1 1553.7 L2251.2 1534.1 L2252.4 1514.4 L2252.2 1494.7 L2252.5 1475.1 L2253.8 1455.4 L2249.8 1435.7 L2253.4 1416.1 L2251.7 1396.4 L2250.1 1376.7 L2250.1 1357.1 L2250.1 1337.4 L2253.2 1317.7 L2252.8 1298.1 L2249.6 1278.4 L2252.0 1258.7 L2250.7 1239.1 L2249.3 1219.4 L2250.9 1199.7 L2250.8 1180.1 L2248.5 1160.4 L2249.8 1140.7 L2249.4 1121.1 L2250.5 1101.4 L2252.1 1081.7 L2252.8 1062.1 L2250.0 1042.4 L2247.8 1022.7 L2250.5 1003.1 L2247.9 983.4 L2252.2 963.7 L2250.4 944.1 L2248.8 924.4 L2250.7 904.7 L2250.1 885.1 L2246.7 865.4 L2247.9 845.7 L2248.4 826.1 L2248.5 806.4 L2249.4 786.7 L2249.1 767.1 L2249.6 747.4 L2246.1 727.7 L2246.8 708.1 L2250.7 688.4 L2248.2 668.7 L2248.0 649.1 L2243.2 629.4 L2245.1 609.7 L2249.4 590.1 L2246.2 570.4 L2249.9 550.7 L2247.4 531.1 L2245.9 511.4 L2244.3 491.7 L2249.4 472.1 L2256.5 452.4 L2246.4 432.7 L2255.1 413.1 L2248.4 393.4 L2242.7 373.7 L2251.6 354.1 L2246.9 334.4 L2244.6 314.7 L2253.4 295.1 L2248.8 275.4 L2241.4 255.7 L2250.4 236.1 L2261.0 216.4 L2256.3 196.7" stroke="#731512"/>
<path d="M2253.8 1829.1 L2254.2 1809.4 L2253.0 1789.7 L2254.7 1770.1 L2254.2 1750.4 L2252.9 1730.7 L2256.1 1711.1 L2254.2 1691.4 L2253.5 1671.7 L2255.9 1652.1 L2252.9 1632.4 L2254.0 1612.7 L2254.4 1593.1 L2254.1 1573.4 L2253.5 1553.7 L2253.6 1534.1 L2254.8 1514.4 L2252.6 1494.7 L2254.0 1475.1 L2254.9 1455.4 L2252.5 1435.7 L2254.8 1416.1 L2253.1 1396.4 L2250.9 1376.7 L2252.0 1357.1 L2252.5 1337.4 L2254.1 1317.7 L2254.2 1298.1 L2252.6 1278.4 L2252.1 1258.7 L2252.5 1239.1 L2250.8 1219.4 L2253.0 1199.7 L2253.1 1180.1 L2251.2 1160.4 L2251.3 1140.7 L2251.0 1121.1 L2252.5 1101.4 L2252.8 1081.7 L2252.6 1062.1 L2252.6 1042.4 L2251.7 1022.7 L2252.2 1003.1 L2250.9 983.4 L2250.4 963.7 L2251.0 944.1 L2250.1 924.4 L2251.9 904.7 L2250.2 885.1 L2249.7 865.4 L2250.3 845.7 L2251.7 826.1 L2248.8 806.4 L2249.3 786.7 L2252.1 767.1 L2248.9 747.4 L2249.2 727.7 L2248.6 708.1 L2249.1 688.4 L2245.1 668.7 L2250.0 649.1 L2246.9 629.4 L2244.6 609.7 L2254.2 590.1 L2252.9 570.4 L2258.4 550.7 L2251.1 531.1 L2245.0 511.4 L2246.4 491.7 L2255.6 472.1 L2253.6 452.4 L2250.9 432.7 L2252.7 413.1 L2249.1 393.4 L2248.2 373.7 L2247.9 354.1 L2247.2 334.4 L2251.5 314.7 L2253.9 295.1 L2245.0 275.4 L2246.6 255.7 L2239.0 236.1 L2255.5 216.4 L2250.9 196.7" stroke="#7d1a17"/>
<path d="M2251.2 1868.4 L2249.5 1848.7 L2251.8 1829.1 L2252.1 1809.4 L2251.9 1789.7 L2252.6 1770.1 L2252.0 1750.4 L2249.3 1730.7 L2251.9 1711.1 L2251.4 1691.4 L2252.1 1671.7 L2252.6 1652.1 L2252.1 1632.4 L2253.6 1612.7 L2249.3 1593.1 L2252.3 1573.4 L2251.8 1553.7 L2253.6 1534.1 L2251.1 1514.4 L2248.9 1494.7 L2252.0 1475.1 L2250.6 1455.4 L2250.2 1435.7 L2250.3 1416.1 L2249.6 1396.4 L2250.2 1376.7 L2250.2 1357.1 L2249.2 1337.4 L2249.1 1317.7 L2250.8 1298.1 L2250.6 1278.4 L2249.7 1258.7 L2248.8 1239.1 L2248.7 1219.4 L2250.8 1199.7 L2249.7 1180.1 L2249.0 1160.4 L2251.1 1140.7 L2248.1 1121.1 L2248.2 1101.4 L2246.9 1081.7 L2248.2 1062.1 L2248.4 1042.4 L2247.2 1022.7 L2248.9 1003.1 L2249.6 983.4 L2248.8 963.7 L2248.5 944.1 L2250.9 924.4 L2248.4 904.7 L2246.2 885.1 L2247.8 865.4 L2246.1 845.7 L2249.6 826.1 L2245.6 806.4 L2247.2 786.7 L2245.9 767.1 L2248.2 747.4 L2244.0 727.7 L2247.0 708.1 L2245.9 688.4 L2245.0 668.7 L2248.1 649.1 L2247.8 629.4 L2244.5 609.7 L2243.6 590.1 L2245.3 570.4 L2246.4 550.7 L2254.9 531.1 L2242.0 511.4 L2240.8 491.7 L2245.0 472.1 L2247.0 452.4 L2242.9 432.7 L2247.3 413.1 L2256.2 393.4 L2245.1 373.7 L2245.2 354.1 L2242.6 334.4 L2246.0 314.7 L2248.0 295.1 L2235.8 275.4 L2242.9 255.7 L2246.5 236.1 L2256.0 216.4 L2252.5 196.7" stroke="#87201c"/>
<path d="M2254.3 1868.4 L2254.8 1848.7 L2255.2 1829.1 L2257.6 1809.4 L2253.7 1789.7 L2255.3 1770.1 L2256.6 1750.4 L2253.6 1730.7 L2257.2 1711.1 L2255.2 1691.4 L2255.9 1671.7 L2255.2 1652.1 L2253.3 1632.4 L2254.2 1612.7 L2257.7 1593.1 L2256.0 1573.4 L2256.0 1553.7 L2255.7 1534.1 L2254.1 1514.4 L2255.1 1494.7 L2254.6 1475.1 L2254.3 1455.4 L2253.6 1435.7 L2254.4 1416.1 L2251.6 1396.4 L2253.5 1376.7 L2253.1 1357.1 L2253.8 1337.4 L2253.6 1317.7 L2252.5 1298.1 L2252.5 1278.4 L2254.8 1258.7 L2253.2 1239.1 L2252.0 1219.4 L2253.6 1199.7 L2253.5 1180.1 L2253.4 1160.4 L2254.5 1140.7 L2250.9 1121.1 L2253.7 1101.4 L2252.3 1081.7 L2252.0 1062.1 L2255.2 1042.4 L2251.4 1022.7 L2255.2 1003.1 L2252.1 983.4 L2251.1 963.7 L2252.6 944.1 L2252.6 924.4 L2251.7 904.7 L2248.7 885.1 L2250.2 865.4 L2250.4 845.7 L2249.3 826.1 L2253.1 806.4 L2251.0 786.7 L2251.1 767.1 L2250.9 747.4 L2247.7 727.7 L2248.9 708.1 L2250.3 688.4 L2250.4 668.7 L2248.0 649.1 L2248.6 629.4 L2243.8 609.7 L2251.0 590.1 L2249.5 570.4 L2249.7 550.7 L2247.6 531.1 L2245.1 511.4 L2247.6 491.7 L2246.3 472.1 L2264.3 452.4 L2249.9 432.7 L2251.1 413.1 L2250.3 393.4 L2255.8 373.7 L2257.3 354.1 L2254.9 334.4 L2241.5 314.7 L2248.9 295.1 L2248.7 275.4 L2249.2 255.7 L2243.4 236.1 L2246.9 216.4 L2247.7 196.7" stroke="#922620"/>
<path d="M2238.0 1809.6 L2291.0 1789.7 L2262.0 1765.0 L2256.0 1745.0 L2253.4 1730.7 L2256.5 1711.1 L2254.5 1691.4 L2255.0 1671.7 L2254.9 1652.1 L2254.3 1632.4 L2256.3 1612.7 L2255.8 1593.1 L2253.4 1573.4 L2254.5 1553.7 L2253.4 1534.1 L2254.1 1514.4 L2253.9 1494.7 L2255.6 1475.1 L2254.1 1455.4 L2250.0 1435.7 L2255.0 1416.1 L2253.0 1396.4 L2253.9 1376.7 L2251.9 1357.1 L2252.9 1337.4 L2253.3 1317.7 L2252.6 1298.1 L2253.0 1278.4 L2253.2 1258.7 L2251.8 1239.1 L2249.5 1219.4 L2250.4 1199.7 L2252.2 1180.1 L2253.3 1160.4 L2252.5 1140.7 L2249.7 1121.1 L2250.8 1101.4 L2252.4 1081.7 L2253.9 1062.1 L2253.5 1042.4 L2251.7 1022.7 L2252.9 1003.1 L2249.4 983.4 L2251.4 963.7 L2251.2 944.1 L2250.4 924.4 L2251.6 904.7 L2250.8 885.1 L2250.8 865.4 L2252.3 845.7 L2251.5 826.1 L2250.9 806.4 L2250.7 786.7 L2248.8 767.1 L2250.9 747.4 L2249.9 727.7 L2248.0 708.1 L2252.5 688.4 L2248.5 668.7 L2249.8 649.1 L2247.7 629.4 L2243.7 609.7 L2255.4 590.1 L2247.7 570.4 L2251.7 550.7 L2248.4 531.1 L2247.5 511.4 L2243.4 491.7 L2248.9 472.1 L2258.0 452.4 L2258.0 432.7 L2247.3 413.1 L2253.3 393.4 L2252.7 373.7 L2247.4 354.1 L2256.8 334.4 L2243.9 314.7 L2254.4 295.1 L2247.5 275.4 L2258.6 255.7 L2251.8 236.1 L2246.2 216.4 L2256.0 196.7" stroke="#9c2b25"/>
<path d="M2253.4 1789.7 L2255.2 1770.1 L2253.6 1750.4 L2250.9 1730.7 L2254.8 1711.1 L2253.1 1691.4 L2251.9 1671.7 L2252.9 1652.1 L2254.1 1632.4 L2252.6 1612.7 L2253.1 1593.1 L2252.5 1573.4 L2251.0 1553.7 L2251.7 1534.1 L2251.6 1514.4 L2251.9 1494.7 L2252.4 1475.1 L2249.7 1455.4 L2251.7 1435.7 L2253.3 1416.1 L2251.9 1396.4 L2252.9 1376.7 L2250.8 1357.1 L2250.1 1337.4 L2252.5 1317.7 L2253.4 1298.1 L2248.5 1278.4 L2250.5 1258.7 L2250.0 1239.1 L2250.2 1219.4 L2253.0 1199.7 L2250.5 1180.1 L2248.5 1160.4 L2250.7 1140.7 L2250.0 1121.1 L2248.0 1101.4 L2251.0 1081.7 L2249.4 1062.1 L2251.0 1042.4 L2247.7 1022.7 L2252.1 1003.1 L2246.9 983.4 L2251.4 963.7 L2247.3 944.1 L2251.2 924.4 L2249.0 904.7 L2247.2 885.1 L2248.0 865.4 L2248.8 845.7 L2247.0 826.1 L2247.6 806.4 L2249.5 786.7 L2249.1 767.1 L2243.2 747.4 L2246.0 727.7 L2249.1 708.1 L2248.4 688.4 L2249.8 668.7 L2245.1 649.1 L2253.8 629.4 L2247.7 609.7 L2248.1 590.1 L2253.0 570.4 L2250.0 550.7 L2248.7 531.1 L2242.2 511.4 L2248.6 491.7 L2250.3 472.1 L2244.0 452.4 L2242.8 432.7 L2251.3 413.1 L2251.8 393.4 L2247.6 373.7 L2251.8 354.1 L2251.9 334.4 L2254.6 314.7 L2245.9 295.1 L2240.8 275.4 L2251.6 255.7 L2252.3 236.1 L2256.4 216.4 L2259.6 196.7" stroke="#a6312a"/>
<path d="M2254.8 1868.4 L2253.8 1848.7 L2252.7 1829.1 L2253.9 1809.4 L2256.2 1789.7 L2255.5 1770.1 L2253.4 1750.4 L2249.7 1730.7 L2253.6 1711.1 L2253.2 1691.4 L2254.6 1671.7 L2257.3 1652.1 L2254.5 1632.4 L2254.4 1612.7 L2252.9 1593.1 L2252.6 1573.4 L2253.9 1553.7 L2252.9 1534.1 L2256.0 1514.4 L2252.3 1494.7 L2252.9 1475.1 L2254.7 1455.4 L2251.4 1435.7 L2252.0 1416.1 L2253.4 1396.4 L2252.1 1376.7 L2250.8 1357.1 L2252.3 1337.4 L2253.8 1317.7 L2252.1 1298.1 L2252.6 1278.4 L2252.9 1258.7 L2250.9 1239.1 L2248.0 1219.4 L2249.4 1199.7 L2251.8 1180.1 L2252.7 1160.4 L2253.0 1140.7 L2253.2 1121.1 L2253.3 1101.4 L2251.1 1081.7 L2252.5 1062.1 L2249.4 1042.4 L2251.3 1022.7 L2252.3 1003.1 L2249.6 983.4 L2250.5 963.7 L2249.2 944.1 L2250.7 924.4 L2252.5 904.7 L2249.9 885.1 L2250.2 865.4 L2248.4 845.7 L2250.0 826.1 L2247.8 806.4 L2250.8 786.7 L2250.1 767.1 L2250.8 747.4 L2246.7 727.7 L2246.6 708.1 L2248.1 688.4 L2251.1 668.7 L2252.4 649.1 L2246.7 629.4 L2248.9 609.7 L2250.7 590.1 L2251.9 570.4 L2242.1 550.7 L2250.7 531.1 L2241.8 511.4 L2250.5 491.7 L2253.0 472.1 L2256.1 452.4 L2237.0 432.7 L2253.2 413.1 L2255.8 393.4 L2240.7 373.7 L2254.8 354.1 L2252.7 334.4 L2246.1 314.7 L2246.1 295.1 L2238.0 275.4 L2248.1 255.7 L2268.5 236.1 L2253.9 216.4 L2252.5 196.7" stroke="#b0362f"/>
<path d="M2252.4 1868.4 L2252.2 1848.7 L2252.5 1829.1 L2254.9 1809.4 L2253.0 1789.7 L2255.3 1770.1 L2252.2 1750.4 L2253.5 1730.7 L2254.1 1711.1 L2254.6 1691.4 L2254.1 1671.7 L2253.0 1652.1 L2254.8 1632.4 L2253.2 1612.7 L2253.6 1593.1 L2252.6 1573.4 L2254.1 1553.7 L2252.6 1534.1 L2252.3 1514.4 L2252.9 1494.7 L2252.5 1475.1 L2251.2 1455.4 L2251.6 1435.7 L2254.5 1416.1 L2252.4 1396.4 L2250.7 1376.7 L2253.0 1357.1 L2252.1 1337.4 L2253.3 1317.7 L2252.7 1298.1 L2251.0 1278.4 L2251.9 1258.7 L2252.9 1239.1 L2249.6 1219.4 L2250.2 1199.7 L2251.6 1180.1 L2251.1 1160.4 L2249.0 1140.7 L2250.3 1121.1 L2251.4 1101.4 L2250.5 1081.7 L2250.9 1062.1 L2249.3 1042.4 L2251.3 1022.7 L2253.8 1003.1 L2249.2 983.4 L2249.8 963.7 L2248.8 944.1 L2251.5 924.4 L2250.5 904.7 L2248.9 885.1 L2251.0 865.4 L2250.3 845.7 L2250.2 826.1 L2246.3 806.4 L2249.7 786.7 L2251.4 767.1 L2247.4 747.4 L2249.7 727.7 L2252.3 708.1 L2251.1 688.4 L2246.2 668.7 L2245.7 649.1 L2250.2 629.4 L2249.4 609.7 L2252.1 590.1 L2254.6 570.4 L2247.1 550.7 L2247.5 531.1 L2237.7 511.4 L2248.7 491.7 L2259.5 472.1 L2250.8 452.4 L2246.2 432.7 L2253.2 413.1 L2254.0 393.4 L2239.6 373.7 L2245.3 354.1 L2245.7 334.4 L2258.7 314.7 L2245.6 295.1 L2249.2 275.4 L2262.8 255.7 L2261.1 236.1 L2261.9 216.4 L2262.1 196.7" stroke="#bb3c33"/>
<path d="M2251.6 1868.4 L2250.9 1848.7 L2252.2 1829.1 L2256.2 1809.4 L2250.1 1789.7 L2253.9 1770.1 L2251.0 1750.4 L2253.1 1730.7 L2254.8 1711.1 L2252.0 1691.4 L2255.9 1671.7 L2253.2 1652.1 L2253.9 1632.4 L2253.1 1612.7 L2252.0 1593.1 L2252.2 1573.4 L2252.6 1553.7 L2252.9 1534.1 L2251.1 1514.4 L2254.6 1494.7 L2252.1 1475.1 L2251.3 1455.4 L2249.0 1435.7 L2251.2 1416.1 L2248.5 1396.4 L2249.8 1376.7 L2252.3 1357.1 L2250.6 1337.4 L2251.6 1317.7 L2251.6 1298.1 L2251.8 1278.4 L2251.4 1258.7 L2251.7 1239.1 L2248.5 1219.4 L2250.7 1199.7 L2249.6 1180.1 L2249.7 1160.4 L2249.3 1140.7 L2249.6 1121.1 L2249.4 1101.4 L2249.4 1081.7 L2249.4 1062.1 L2249.3 1042.4 L2250.8 1022.7 L2250.0 1003.1 L2247.0 983.4 L2250.1 963.7 L2247.8 944.1 L2247.5 924.4 L2249.4 904.7 L2246.5 885.1 L2243.0 865.4 L2248.5 845.7 L2249.9 826.1 L2245.3 806.4 L2247.2 786.7 L2250.3 767.1 L2244.6 747.4 L2244.6 727.7 L2245.0 708.1 L2247.0 688.4 L2241.6 668.7 L2249.3 649.1 L2245.9 629.4 L2246.1 609.7 L2245.7 590.1 L2241.3 570.4 L2245.8 550.7 L2242.6 531.1 L2244.3 511.4 L2240.5 491.7 L2246.8 472.1 L2250.9 452.4 L2251.3 432.7 L2252.9 413.1 L2245.6 393.4 L2245.8 373.7 L2256.7 354.1 L2253.9 334.4 L2241.3 314.7 L2248.2 295.1 L2240.6 275.4 L2255.7 255.7 L2247.7 236.1 L2253.8 216.4 L2265.8 196.7" stroke="#c54238"/>
<path d="M2250.5 1868.4 L2249.3 1848.7 L2250.2 1829.1 L2253.7 1809.4 L2252.5 1789.7 L2255.1 1770.1 L2249.7 1750.4 L2249.9 1730.7 L2254.8 1711.1 L2253.8 1691.4 L2254.1 1671.7 L2254.0 1652.1 L2252.0 1632.4 L2252.4 1612.7 L2252.5 1593.1 L2253.6 1573.4 L2252.3 1553.7 L2252.3 1534.1 L2252.7 1514.4 L2249.6 1494.7 L2251.0 1475.1 L2252.5 1455.4 L2249.4 1435.7 L2251.8 1416.1 L2253.1 1396.4 L2251.5 1376.7 L2250.3 1357.1 L2251.8 1337.4 L2255.1 1317.7 L2249.3 1298.1 L2249.1 1278.4 L2250.5 1258.7 L2249.5 1239.1 L2252.0 1219.4 L2251.5 1199.7 L2249.8 1180.1 L2250.3 1160.4 L2249.0 1140.7 L2249.0 1121.1 L2249.5 1101.4 L2252.8 1081.7 L2246.3 1062.1 L2250.3 1042.4 L2250.7 1022.7 L2251.3 1003.1 L2251.0 983.4 L2250.2 963.7 L2249.4 944.1 L2248.7 924.4 L2247.7 904.7 L2251.5 885.1 L2245.9 865.4 L2247.6 845.7 L2247.1 826.1 L2246.4 806.4 L2244.4 786.7 L2248.1 767.1 L2248.9 747.4 L2246.7 727.7 L2249.8 708.1 L2246.8 688.4 L2245.0 668.7 L2247.4 649.1 L2248.3 629.4 L2241.7 609.7 L2241.1 590.1 L2245.0 570.4 L2250.4 550.7 L2252.1 531.1 L2240.1 511.4 L2244.6 491.7 L2252.1 472.1 L2258.3 452.4 L2243.8 432.7 L2247.3 413.1 L2258.6 393.4 L2259.6 373.7 L2257.1 354.1 L2243.6 334.4 L2248.4 314.7 L2246.8 295.1 L2242.2 275.4 L2244.6 255.7 L2243.8 236.1 L2250.8 216.4 L2263.0 196.7" stroke="#cf473d"/>
<path d="M2256.1 1868.4 L2255.4 1848.7 L2255.0 1829.1 L2255.9 1809.4 L2257.5 1789.7 L2257.8 1770.1 L2258.8 1750.4 L2255.1 1730.7 L2256.5 1711.1 L2253.9 1691.4 L2257.1 1671.7 L2254.1 1652.1 L2257.8 1632.4 L2255.2 1612.7 L2256.2 1593.1 L2254.2 1573.4 L2255.5 1553.7 L2254.2 1534.1 L2256.0 1514.4 L2255.3 1494.7 L2254.1 1475.1 L2252.6 1455.4 L2253.3 1435.7 L2255.0 1416.1 L2252.3 1396.4 L2255.4 1376.7 L2254.3 1357.1 L2254.2 1337.4 L2254.5 1317.7 L2253.8 1298.1 L2253.1 1278.4 L2251.7 1258.7 L2255.0 1239.1 L2253.3 1219.4 L2252.0 1199.7 L2254.2 1180.1 L2254.9 1160.4 L2254.2 1140.7 L2255.5 1121.1 L2252.7 1101.4 L2253.1 1081.7 L2251.3 1062.1 L2252.1 1042.4 L2249.8 1022.7 L2252.6 1003.1 L2252.2 983.4 L2254.0 963.7 L2254.7 944.1 L2252.8 924.4 L2251.1 904.7 L2253.3 885.1 L2251.3 865.4 L2254.6 845.7 L2255.1 826.1 L2253.2 806.4 L2250.0 786.7 L2251.5 767.1 L2252.7 747.4 L2248.3 727.7 L2252.7 708.1 L2252.8 688.4 L2253.0 668.7 L2250.8 649.1 L2246.8 629.4 L2245.5 609.7 L2249.9 590.1 L2257.9 570.4 L2256.5 550.7 L2255.8 531.1 L2249.4 511.4 L2251.0 491.7 L2255.8 472.1 L2262.1 452.4 L2255.5 432.7 L2243.8 413.1 L2259.9 393.4 L2251.7 373.7 L2248.9 354.1 L2257.7 334.4 L2251.1 314.7 L2252.0 295.1 L2234.5 275.4 L2253.6 255.7 L2255.0 236.1 L2254.2 216.4 L2240.8 196.7" stroke="#d94d42"/>
<path d="M2256.1 1868.4 L2255.2 1848.7 L2256.2 1829.1 L2255.2 1809.4 L2254.4 1789.7 L2256.9 1770.1 L2255.1 1750.4 L2254.6 1730.7 L2260.9 1711.1 L2256.7 1691.4 L2256.4 1671.7 L2253.7 1652.1 L2255.4 1632.4 L2256.8 1612.7 L2254.7 1593.1 L2255.4 1573.4 L2252.5 1553.7 L2255.9 1534.1 L2253.0 1514.4 L2255.5 1494.7 L2257.4 1475.1 L2254.7 1455.4 L2254.5 1435.7 L2255.6 1416.1 L2253.2 1396.4 L2253.7 1376.7 L2252.9 1357.1 L2255.5 1337.4 L2256.2 1317.7 L2252.6 1298.1 L2254.6 1278.4 L2252.5 1258.7 L2251.4 1239.1 L2254.1 1219.4 L2252.1 1199.7 L2255.4 1180.1 L2253.1 1160.4 L2254.7 1140.7 L2253.9 1121.1 L2254.4 1101.4 L2253.2 1081.7 L2253.7 1062.1 L2253.3 1042.4 L2253.7 1022.7 L2252.9 1003.1 L2253.0 983.4 L2255.2 963.7 L2252.3 944.1 L2252.9 924.4 L2251.4 904.7 L2251.6 885.1 L2251.6 865.4 L2250.5 845.7 L2249.6 826.1 L2251.0 806.4 L2252.2 786.7 L2252.9 767.1 L2253.5 747.4 L2245.1 727.7 L2254.7 708.1 L2250.0 688.4 L2247.7 668.7 L2248.5 649.1 L2250.9 629.4 L2251.4 609.7 L2248.5 590.1 L2252.9 570.4 L2242.5 550.7 L2251.9 531.1 L2246.8 511.4 L2245.2 491.7 L2255.9 472.1 L2264.6 452.4 L2256.2 432.7 L2247.4 413.1 L2263.1 393.4 L2246.9 373.7 L2251.0 354.1 L2250.1 334.4 L2251.9 314.7 L2255.9 295.1 L2246.9 275.4 L2250.9 255.7 L2249.4 236.1 L2251.0 216.4 L2260.5 196.7" stroke="#e45246"/>
<path d="M2228.4 1789.7 L2342.2 1747.8 L2242.8 1690.3 L2277.0 1670.5 L2259.0 1652.0 L2252.7 1632.4 L2253.6 1612.7 L2255.4 1593.1 L2254.1 1573.4 L2254.5 1553.7 L2255.5 1534.1 L2252.5 1514.4 L2250.2 1494.7 L2252.5 1475.1 L2254.5 1455.4 L2251.1 1435.7 L2251.9 1416.1 L2248.7 1396.4 L2252.9 1376.7 L2254.7 1357.1 L2249.9 1337.4 L2249.8 1317.7 L2253.2 1298.1 L2250.8 1278.4 L2251.4 1258.7 L2251.4 1239.1 L2249.1 1219.4 L2253.0 1199.7 L2253.3 1180.1 L2251.6 1160.4 L2250.8 1140.7 L2253.0 1121.1 L2250.7 1101.4 L2251.9 1081.7 L2249.6 1062.1 L2252.2 1042.4 L2251.5 1022.7 L2253.8 1003.1 L2249.7 983.4 L2251.8 963.7 L2249.7 944.1 L2251.9 924.4 L2251.9 904.7 L2252.3 885.1 L2248.7 865.4 L2247.1 845.7 L2249.4 826.1 L2248.9 806.4 L2248.6 786.7 L2251.8 767.1 L2252.4 747.4 L2248.9 727.7 L2252.2 708.1 L2249.9 688.4 L2245.3 668.7 L2246.0 649.1 L2246.3 629.4 L2249.0 609.7 L2251.9 590.1 L2251.0 570.4 L2252.2 550.7 L2245.6 531.1 L2245.0 511.4 L2253.1 491.7 L2251.9 472.1 L2258.9 452.4 L2238.0 432.7 L2240.4 413.1 L2247.0 393.4 L2253.6 373.7 L2260.1 354.1 L2248.1 334.4 L2240.2 314.7 L2243.0 295.1 L2237.6 275.4 L2254.9 255.7 L2246.3 236.1 L2267.5 216.4 L2256.9 196.7" stroke="#ee584b"/>
</g>
</g>
<rect x="672.4" y="216.4" width="1222.1" height="1652.0" fill="none" stroke="#fff" stroke-width="5.33"/>
<path d="M672.4 1789.7h-11.67M672.4 1593.1h-11.67M672.4 1396.4h-11.67M672.4 1199.7h-11.67M672.4 1003.1h-11.67M672.4 806.4h-11.67M672.4 609.7h-11.67M672.4 413.1h-11.67M672.4 216.4h-11.67M783.5 1868.4v11.67M1005.7 1868.4v11.67M1227.9 1868.4v11.67M1450.1 1868.4v11.67M1672.3 1868.4v11.67M1894.5 1868.4v11.67" stroke="#fff" stroke-width="2.67" fill="none"/>
<rect x="2138.3" y="216.4" width="1222.2" height="1652.0" fill="none" stroke="#fff" stroke-width="5.33"/>
<path d="M2138.3 1789.7h-11.67M2138.3 1593.1h-11.67M2138.3 1396.4h-11.67M2138.3 1199.7h-11.67M2138.3 1003.1h-11.67M2138.3 806.4h-11.67M2138.3 609.7h-11.67M2138.3 413.1h-11.67M2138.3 216.4h-11.67M2249.4 1868.4v11.67M2471.6 1868.4v11.67M2693.8 1868.4v11.67M2916.1 1868.4v11.67M3138.3 1868.4v11.67M3360.5 1868.4v11.67" stroke="#fff" stroke-width="2.67" fill="none"/>
<rect x="11.5" y="788.6" width="426.5" height="837.5" rx="8" fill="#000" stroke="#a3a3a3" stroke-width="3.33"/>
<rect x="21.8" y="814.9" width="90" height="10" fill="#003e64"/>
<rect x="21.8" y="873.9" width="90" height="10" fill="#00446c"/>
<rect x="21.8" y="932.9" width="90" height="10" fill="#004a74"/>
<rect x="21.8" y="991.9" width="90" height="10" fill="#00507c"/>
<rect x="21.8" y="1050.9" width="90" height="10" fill="#015685"/>
<rect x="21.8" y="1109.9" width="90" height="10" fill="#015c8d"/>
<rect x="21.8" y="1168.9" width="90" height="10" fill="#016295"/>
<rect x="21.8" y="1227.9" width="90" height="10" fill="#01689d"/>
<rect x="21.8" y="1286.9" width="90" height="10" fill="#016ea5"/>
<rect x="21.8" y="1345.9" width="90" height="10" fill="#0174ad"/>
<rect x="21.8" y="1404.9" width="90" height="10" fill="#027ab6"/>
<rect x="21.8" y="1463.9" width="90" height="10" fill="#0280be"/>
<rect x="21.8" y="1522.9" width="90" height="10" fill="#0286c6"/>
<rect x="21.8" y="1581.9" width="90" height="10" fill="#028cce"/>
<rect x="3380.3" y="729.5" width="423.3" height="955.7" rx="8" fill="#000" stroke="#a3a3a3" stroke-width="3.33"/>
<rect x="3391.2" y="756.0" width="90" height="10" fill="#540404"/>
<rect x="3391.2" y="815.0" width="90" height="10" fill="#5e0a09"/>
<rect x="3391.2" y="874.0" width="90" height="10" fill="#690f0d"/>
<rect x="3391.2" y="933.0" width="90" height="10" fill="#731512"/>
<rect x="3391.2" y="992.0" width="90" height="10" fill="#7d1a17"/>
<rect x="3391.2" y="1051.0" width="90" height="10" fill="#87201c"/>
<rect x="3391.2" y="1110.0" width="90" height="10" fill="#922620"/>
<rect x="3391.2" y="1169.0" width="90" height="10" fill="#9c2b25"/>
<rect x="3391.2" y="1228.0" width="90" height="10" fill="#a6312a"/>
<rect x="3391.2" y="1287.0" width="90" height="10" fill="#b0362f"/>
<rect x="3391.2" y="1346.0" width="90" height="10" fill="#bb3c33"/>
<rect x="3391.2" y="1405.0" width="90" height="10" fill="#c54238"/>
<rect x="3391.2" y="1464.0" width="90" height="10" fill="#cf473d"/>
<rect x="3391.2" y="1523.0" width="90" height="10" fill="#d94d42"/>
<rect x="3391.2" y="1582.0" width="90" height="10" fill="#e45246"/>
<rect x="3391.2" y="1641.0" width="90" height="10" fill="#ee584b"/>
<path d="M40 1980.2H120" stroke="#fff" stroke-width="10" stroke-dasharray="37 16"/>
<path d="M40 2040H120" stroke="#fff" stroke-width="10" stroke-dasharray="10 16.5"/>
<rect x="40" y="2085.3" width="80" height="28" fill="#686b70" stroke="#8d9095" stroke-width="3"/>
<text font-size="80.00" font-weight="bold" fill="#fff" stroke="#fff" stroke-width="1.60"><tspan x="797.9" y="101.8" textLength="220.4" lengthAdjust="spacingAndGlyphs">SAGE</tspan> <tspan x="1043.9" y="101.8" font-family='"Liberation Mono", monospace' font-size="84.8" textLength="133.2" lengthAdjust="spacingAndGlyphs">III</tspan><tspan x="1181.1" y="106.6" font-size="91.2" stroke-width="0" textLength="39.6" lengthAdjust="spacingAndGlyphs">/</tspan><tspan x="1224.7" y="101.8" font-family='"Liberation Mono", monospace' font-size="84.8" textLength="44.4" lengthAdjust="spacingAndGlyphs">I</tspan><tspan x="1269.1" y="101.8" textLength="101.5" lengthAdjust="spacingAndGlyphs">SS</tspan> <tspan x="1396.2" y="101.8" textLength="271.9" lengthAdjust="spacingAndGlyphs">602nm</tspan> <tspan x="1693.7" y="101.8" textLength="341.1" lengthAdjust="spacingAndGlyphs">Aerosol-</tspan><tspan x="2034.8" y="101.8" textLength="119.0" lengthAdjust="spacingAndGlyphs">to-</tspan><tspan x="2153.7" y="101.8" textLength="401.1" lengthAdjust="spacingAndGlyphs">Molecular</tspan> <tspan x="2580.5" y="101.8" textLength="411.3" lengthAdjust="spacingAndGlyphs">Extinction</tspan> <tspan x="3017.4" y="101.8" textLength="217.5" lengthAdjust="spacingAndGlyphs">Ratio</tspan></text>
<text font-size="80.00" font-weight="bold" fill="#fff" stroke="#fff" stroke-width="1.60"><tspan x="1625.9" y="189.3" textLength="101.3" lengthAdjust="spacingAndGlyphs">30</tspan> <tspan x="1752.8" y="189.3" textLength="441.9" lengthAdjust="spacingAndGlyphs">September</tspan> <tspan x="2220.3" y="189.3" textLength="186.6" lengthAdjust="spacingAndGlyphs">2021</tspan></text>
<text font-size="66.67" font-weight="bold" fill="#fff" stroke="#fff" stroke-width="1.33"><tspan x="1157.9" y="195.9" textLength="251.0" lengthAdjust="spacingAndGlyphs">Sunrise</tspan></text>
<text font-size="66.67" font-weight="bold" fill="#fff" stroke="#fff" stroke-width="1.33"><tspan x="2636.4" y="195.9" textLength="226.0" lengthAdjust="spacingAndGlyphs">Sunset</tspan></text>
<text font-size="60.00" fill="#fff" stroke="#fff" stroke-width="1.50"><tspan x="732.2" y="2001.9" textLength="242.6" lengthAdjust="spacingAndGlyphs">Aerosol-</tspan><tspan x="974.7" y="2001.9" textLength="95.1" lengthAdjust="spacingAndGlyphs">To-</tspan><tspan x="1069.8" y="2001.9" textLength="284.6" lengthAdjust="spacingAndGlyphs">Molecular</tspan> <tspan x="1371.2" y="2001.9" textLength="290.4" lengthAdjust="spacingAndGlyphs">Extinction</tspan> <tspan x="1678.4" y="2001.9" textLength="156.3" lengthAdjust="spacingAndGlyphs">Ratio</tspan></text>
<text transform="translate(559.5 1042.4) rotate(-90)" font-size="60" fill="#fff" stroke="#fff" stroke-width="1.50"><tspan x="-191.9" y="0.0" textLength="229.3" lengthAdjust="spacingAndGlyphs">Altitude</tspan> <tspan x="54.2" y="0.0" textLength="137.7" lengthAdjust="spacingAndGlyphs">[km]</tspan></text>
<text font-size="45.50" fill="#fff" stroke="#fff" stroke-width="1.17"><tspan x="598.9" y="1806.5" textLength="48.7" lengthAdjust="spacingAndGlyphs">10</tspan></text>
<text font-size="45.50" fill="#fff" stroke="#fff" stroke-width="1.17"><tspan x="600.8" y="1609.9" textLength="46.8" lengthAdjust="spacingAndGlyphs">15</tspan></text>
<text font-size="45.50" fill="#fff" stroke="#fff" stroke-width="1.17"><tspan x="596.7" y="1413.2" textLength="50.9" lengthAdjust="spacingAndGlyphs">20</tspan></text>
<text font-size="45.50" fill="#fff" stroke="#fff" stroke-width="1.17"><tspan x="598.5" y="1216.5" textLength="49.1" lengthAdjust="spacingAndGlyphs">25</tspan></text>
<text font-size="45.50" fill="#fff" stroke="#fff" stroke-width="1.17"><tspan x="597.6" y="1019.9" textLength="50.0" lengthAdjust="spacingAndGlyphs">30</tspan></text>
<text font-size="45.50" fill="#fff" stroke="#fff" stroke-width="1.17"><tspan x="599.4" y="823.2" textLength="48.2" lengthAdjust="spacingAndGlyphs">35</tspan></text>
<text font-size="45.50" fill="#fff" stroke="#fff" stroke-width="1.17"><tspan x="593.4" y="626.5" textLength="54.2" lengthAdjust="spacingAndGlyphs">40</tspan></text>
<text font-size="45.50" fill="#fff" stroke="#fff" stroke-width="1.17"><tspan x="595.2" y="429.9" textLength="52.4" lengthAdjust="spacingAndGlyphs">45</tspan></text>
<text font-size="45.50" fill="#fff" stroke="#fff" stroke-width="1.17"><tspan x="595.8" y="233.2" textLength="51.8" lengthAdjust="spacingAndGlyphs">50</tspan></text>
<text font-size="45.50" fill="#fff" stroke="#fff" stroke-width="1.17"><tspan x="770.8" y="1926.5" textLength="25.3" lengthAdjust="spacingAndGlyphs">0</tspan></text>
<text font-size="45.50" fill="#fff" stroke="#fff" stroke-width="1.17"><tspan x="980.3" y="1926.5" textLength="50.9" lengthAdjust="spacingAndGlyphs">20</tspan></text>
<text font-size="45.50" fill="#fff" stroke="#fff" stroke-width="1.17"><tspan x="1200.8" y="1926.5" textLength="54.2" lengthAdjust="spacingAndGlyphs">40</tspan></text>
<text font-size="45.50" fill="#fff" stroke="#fff" stroke-width="1.17"><tspan x="1424.4" y="1926.5" textLength="51.3" lengthAdjust="spacingAndGlyphs">60</tspan></text>
<text font-size="45.50" fill="#fff" stroke="#fff" stroke-width="1.17"><tspan x="1646.1" y="1926.5" textLength="52.3" lengthAdjust="spacingAndGlyphs">80</tspan></text>
<text font-size="45.50" fill="#fff" stroke="#fff" stroke-width="1.17"><tspan x="1856.5" y="1926.5" textLength="76.0" lengthAdjust="spacingAndGlyphs">100</tspan></text>
<text font-size="60.00" fill="#fff" stroke="#fff" stroke-width="1.50"><tspan x="2198.1" y="2001.9" textLength="242.6" lengthAdjust="spacingAndGlyphs">Aerosol-</tspan><tspan x="2440.7" y="2001.9" textLength="95.1" lengthAdjust="spacingAndGlyphs">To-</tspan><tspan x="2535.8" y="2001.9" textLength="284.6" lengthAdjust="spacingAndGlyphs">Molecular</tspan> <tspan x="2837.2" y="2001.9" textLength="290.4" lengthAdjust="spacingAndGlyphs">Extinction</tspan> <tspan x="3144.4" y="2001.9" textLength="156.3" lengthAdjust="spacingAndGlyphs">Ratio</tspan></text>
<text transform="translate(2025.4 1042.4) rotate(-90)" font-size="60" fill="#fff" stroke="#fff" stroke-width="1.50"><tspan x="-191.9" y="0.0" textLength="229.3" lengthAdjust="spacingAndGlyphs">Altitude</tspan> <tspan x="54.2" y="0.0" textLength="137.7" lengthAdjust="spacingAndGlyphs">[km]</tspan></text>
<text font-size="45.50" fill="#fff" stroke="#fff" stroke-width="1.17"><tspan x="2064.8" y="1806.5" textLength="48.7" lengthAdjust="spacingAndGlyphs">10</tspan></text>
<text font-size="45.50" fill="#fff" stroke="#fff" stroke-width="1.17"><tspan x="2066.7" y="1609.9" textLength="46.8" lengthAdjust="spacingAndGlyphs">15</tspan></text>
<text font-size="45.50" fill="#fff" stroke="#fff" stroke-width="1.17"><tspan x="2062.6" y="1413.2" textLength="50.9" lengthAdjust="spacingAndGlyphs">20</tspan></text>
<text font-size="45.50" fill="#fff" stroke="#fff" stroke-width="1.17"><tspan x="2064.4" y="1216.5" textLength="49.1" lengthAdjust="spacingAndGlyphs">25</tspan></text>
<text font-size="45.50" fill="#fff" stroke="#fff" stroke-width="1.17"><tspan x="2063.5" y="1019.9" textLength="50.0" lengthAdjust="spacingAndGlyphs">30</tspan></text>
<text font-size="45.50" fill="#fff" stroke="#fff" stroke-width="1.17"><tspan x="2065.3" y="823.2" textLength="48.2" lengthAdjust="spacingAndGlyphs">35</tspan></text>
<text font-size="45.50" fill="#fff" stroke="#fff" stroke-width="1.17"><tspan x="2059.2" y="626.5" textLength="54.2" lengthAdjust="spacingAndGlyphs">40</tspan></text>
<text font-size="45.50" fill="#fff" stroke="#fff" stroke-width="1.17"><tspan x="2061.1" y="429.9" textLength="52.4" lengthAdjust="spacingAndGlyphs">45</tspan></text>
<text font-size="45.50" fill="#fff" stroke="#fff" stroke-width="1.17"><tspan x="2061.7" y="233.2" textLength="51.8" lengthAdjust="spacingAndGlyphs">50</tspan></text>
<text font-size="45.50" fill="#fff" stroke="#fff" stroke-width="1.17"><tspan x="2236.7" y="1926.5" textLength="25.3" lengthAdjust="spacingAndGlyphs">0</tspan></text>
<text font-size="45.50" fill="#fff" stroke="#fff" stroke-width="1.17"><tspan x="2446.2" y="1926.5" textLength="50.9" lengthAdjust="spacingAndGlyphs">20</tspan></text>
<text font-size="45.50" fill="#fff" stroke="#fff" stroke-width="1.17"><tspan x="2666.7" y="1926.5" textLength="54.2" lengthAdjust="spacingAndGlyphs">40</tspan></text>
<text font-size="45.50" fill="#fff" stroke="#fff" stroke-width="1.17"><tspan x="2890.4" y="1926.5" textLength="51.3" lengthAdjust="spacingAndGlyphs">60</tspan></text>
<text font-size="45.50" fill="#fff" stroke="#fff" stroke-width="1.17"><tspan x="3112.1" y="1926.5" textLength="52.3" lengthAdjust="spacingAndGlyphs">80</tspan></text>
<text font-size="45.50" fill="#fff" stroke="#fff" stroke-width="1.17"><tspan x="3322.5" y="1926.5" textLength="76.0" lengthAdjust="spacingAndGlyphs">100</tspan></text>
<text font-size="40.00" fill="#fff" stroke="#fff" stroke-width="1.00"><tspan x="142.0" y="833.7" textLength="275.4" lengthAdjust="spacingAndGlyphs">2021093002SR</tspan></text>
<text font-size="40.00" fill="#fff" stroke="#fff" stroke-width="1.00"><tspan x="142.0" y="892.7" textLength="276.2" lengthAdjust="spacingAndGlyphs">2021093005SR</tspan></text>
<text font-size="40.00" fill="#fff" stroke="#fff" stroke-width="1.00"><tspan x="142.0" y="951.7" textLength="276.7" lengthAdjust="spacingAndGlyphs">2021093008SR</tspan></text>
<text font-size="40.00" fill="#fff" stroke="#fff" stroke-width="1.00"><tspan x="142.0" y="1010.7" textLength="269.2" lengthAdjust="spacingAndGlyphs">2021093011SR</tspan></text>
<text font-size="40.00" fill="#fff" stroke="#fff" stroke-width="1.00"><tspan x="142.0" y="1069.7" textLength="270.9" lengthAdjust="spacingAndGlyphs">2021093017SR</tspan></text>
<text font-size="40.00" fill="#fff" stroke="#fff" stroke-width="1.00"><tspan x="142.0" y="1128.7" textLength="275.4" lengthAdjust="spacingAndGlyphs">2021093020SR</tspan></text>
<text font-size="40.00" fill="#fff" stroke="#fff" stroke-width="1.00"><tspan x="142.0" y="1187.7" textLength="272.3" lengthAdjust="spacingAndGlyphs">2021093023SR</tspan></text>
<text font-size="40.00" fill="#fff" stroke="#fff" stroke-width="1.00"><tspan x="142.0" y="1246.7" textLength="273.4" lengthAdjust="spacingAndGlyphs">2021093026SR</tspan></text>
<text font-size="40.00" fill="#fff" stroke="#fff" stroke-width="1.00"><tspan x="142.0" y="1305.7" textLength="273.2" lengthAdjust="spacingAndGlyphs">2021093029SR</tspan></text>
<text font-size="40.00" fill="#fff" stroke="#fff" stroke-width="1.00"><tspan x="142.0" y="1364.7" textLength="272.3" lengthAdjust="spacingAndGlyphs">2021093032SR</tspan></text>
<text font-size="40.00" fill="#fff" stroke="#fff" stroke-width="1.00"><tspan x="142.0" y="1423.7" textLength="273.1" lengthAdjust="spacingAndGlyphs">2021093035SR</tspan></text>
<text font-size="40.00" fill="#fff" stroke="#fff" stroke-width="1.00"><tspan x="142.0" y="1482.7" textLength="273.6" lengthAdjust="spacingAndGlyphs">2021093038SR</tspan></text>
<text font-size="40.00" fill="#fff" stroke="#fff" stroke-width="1.00"><tspan x="142.0" y="1541.7" textLength="274.1" lengthAdjust="spacingAndGlyphs">2021093041SR</tspan></text>
<text font-size="40.00" fill="#fff" stroke="#fff" stroke-width="1.00"><tspan x="142.0" y="1600.7" textLength="278.9" lengthAdjust="spacingAndGlyphs">2021093044SR</tspan></text>
<text font-size="40.00" fill="#fff" stroke="#fff" stroke-width="1.00"><tspan x="3510.2" y="775.0" textLength="270.7" lengthAdjust="spacingAndGlyphs">2021093001SS</tspan></text>
<text font-size="40.00" fill="#fff" stroke="#fff" stroke-width="1.00"><tspan x="3510.2" y="834.0" textLength="275.5" lengthAdjust="spacingAndGlyphs">2021093004SS</tspan></text>
<text font-size="40.00" fill="#fff" stroke="#fff" stroke-width="1.00"><tspan x="3510.2" y="893.0" textLength="272.4" lengthAdjust="spacingAndGlyphs">2021093007SS</tspan></text>
<text font-size="40.00" fill="#fff" stroke="#fff" stroke-width="1.00"><tspan x="3510.2" y="952.0" textLength="270.7" lengthAdjust="spacingAndGlyphs">2021093010SS</tspan></text>
<text font-size="40.00" fill="#fff" stroke="#fff" stroke-width="1.00"><tspan x="3510.2" y="1011.0" textLength="267.6" lengthAdjust="spacingAndGlyphs">2021093013SS</tspan></text>
<text font-size="40.00" fill="#fff" stroke="#fff" stroke-width="1.00"><tspan x="3510.2" y="1070.0" textLength="268.7" lengthAdjust="spacingAndGlyphs">2021093016SS</tspan></text>
<text font-size="40.00" fill="#fff" stroke="#fff" stroke-width="1.00"><tspan x="3510.2" y="1129.0" textLength="268.4" lengthAdjust="spacingAndGlyphs">2021093019SS</tspan></text>
<text font-size="40.00" fill="#fff" stroke="#fff" stroke-width="1.00"><tspan x="3510.2" y="1188.0" textLength="270.2" lengthAdjust="spacingAndGlyphs">2021093022SS</tspan></text>
<text font-size="40.00" fill="#fff" stroke="#fff" stroke-width="1.00"><tspan x="3510.2" y="1247.0" textLength="271.1" lengthAdjust="spacingAndGlyphs">2021093025SS</tspan></text>
<text font-size="40.00" fill="#fff" stroke="#fff" stroke-width="1.00"><tspan x="3510.2" y="1306.0" textLength="271.5" lengthAdjust="spacingAndGlyphs">2021093028SS</tspan></text>
<text font-size="40.00" fill="#fff" stroke="#fff" stroke-width="1.00"><tspan x="3510.2" y="1365.0" textLength="267.6" lengthAdjust="spacingAndGlyphs">2021093031SS</tspan></text>
<text font-size="40.00" fill="#fff" stroke="#fff" stroke-width="1.00"><tspan x="3510.2" y="1424.0" textLength="272.4" lengthAdjust="spacingAndGlyphs">2021093034SS</tspan></text>
<text font-size="40.00" fill="#fff" stroke="#fff" stroke-width="1.00"><tspan x="3510.2" y="1483.0" textLength="269.2" lengthAdjust="spacingAndGlyphs">2021093037SS</tspan></text>
<text font-size="40.00" fill="#fff" stroke="#fff" stroke-width="1.00"><tspan x="3510.2" y="1542.0" textLength="275.5" lengthAdjust="spacingAndGlyphs">2021093040SS</tspan></text>
<text font-size="40.00" fill="#fff" stroke="#fff" stroke-width="1.00"><tspan x="3510.2" y="1601.0" textLength="272.4" lengthAdjust="spacingAndGlyphs">2021093043SS</tspan></text>
<text font-size="40.00" fill="#fff" stroke="#fff" stroke-width="1.00"><tspan x="3510.2" y="1660.0" textLength="273.5" lengthAdjust="spacingAndGlyphs">2021093046SS</tspan></text>
<text font-size="40.00" fill="#fff" stroke="#fff" stroke-width="1.00"><tspan x="152.9" y="1993.2" textLength="107.1" lengthAdjust="spacingAndGlyphs">Mean</tspan> <tspan x="271.2" y="1993.2" textLength="231.0" lengthAdjust="spacingAndGlyphs">Tropopause</tspan></text>
<text font-size="40.00" fill="#fff" stroke="#fff" stroke-width="1.00"><tspan x="152.9" y="2053.3" textLength="143.6" lengthAdjust="spacingAndGlyphs">Median</tspan> <tspan x="307.7" y="2053.3" textLength="231.0" lengthAdjust="spacingAndGlyphs">Tropopause</tspan></text>
<text font-size="40.00" fill="#fff" stroke="#fff" stroke-width="1.00"><tspan x="155.4" y="2112.8" textLength="231.0" lengthAdjust="spacingAndGlyphs">Tropopause</tspan> <tspan x="397.6" y="2112.8" textLength="126.3" lengthAdjust="spacingAndGlyphs">Range</tspan></text>
<text font-size="33.33" fill="#808080" stroke="#808080" stroke-width="0.83"><tspan x="3269.3" y="2038.4" textLength="90.1" lengthAdjust="spacingAndGlyphs">SAGE</tspan> <tspan x="3368.8" y="2038.4" font-family='"Liberation Mono", monospace' font-size="35.3" textLength="47.8" lengthAdjust="spacingAndGlyphs">III</tspan><tspan x="3418.2" y="2040.4" font-size="38.0" stroke-width="0" textLength="15.2" lengthAdjust="spacingAndGlyphs">/</tspan><tspan x="3435.1" y="2038.4" font-family='"Liberation Mono", monospace' font-size="35.3" textLength="16.0" lengthAdjust="spacingAndGlyphs">I</tspan><tspan x="3451.0" y="2038.4" textLength="41.6" lengthAdjust="spacingAndGlyphs">SS</tspan> <tspan x="3502.0" y="2038.4" textLength="119.6" lengthAdjust="spacingAndGlyphs">Mission</tspan> <tspan x="3630.9" y="2038.4" textLength="7.7" lengthAdjust="spacingAndGlyphs">|</tspan> <tspan x="3647.9" y="2038.4" textLength="93.9" lengthAdjust="spacingAndGlyphs">NASA</tspan> <tspan x="3751.1" y="2038.4" textLength="86.9" lengthAdjust="spacingAndGlyphs">LaRC</tspan></text>
<text font-size="33.33" fill="#808080" stroke="#808080" stroke-width="0.83"><tspan x="3314.1" y="2076.3" textLength="150.2" lengthAdjust="spacingAndGlyphs">Preparer:</tspan> <tspan x="3473.6" y="2076.3" textLength="92.1" lengthAdjust="spacingAndGlyphs">Kevin</tspan> <tspan x="3575.1" y="2076.3" textLength="30.8" lengthAdjust="spacingAndGlyphs">R.</tspan> <tspan x="3615.2" y="2076.3" textLength="113.6" lengthAdjust="spacingAndGlyphs">Leavor</tspan> <tspan x="3738.1" y="2076.3" textLength="99.9" lengthAdjust="spacingAndGlyphs">(AMA)</tspan></text>
<text font-size="33.33" fill="#808080" stroke="#808080" stroke-width="0.83"><tspan x="3390.6" y="2113.5" textLength="172.4" lengthAdjust="spacingAndGlyphs">Generated</tspan> <tspan x="3572.4" y="2113.5" textLength="88.8" lengthAdjust="spacingAndGlyphs">2025-</tspan><tspan x="3661.2" y="2113.5" textLength="51.4" lengthAdjust="spacingAndGlyphs">07-</tspan><tspan x="3712.6" y="2113.5" textLength="34.8" lengthAdjust="spacingAndGlyphs">17</tspan> <tspan x="3756.7" y="2113.5" textLength="81.3" lengthAdjust="spacingAndGlyphs">22:25</tspan></text>
<text font-size="33.33" fill="#808080" stroke="#808080" stroke-width="0.83"><tspan x="3535.2" y="2150.5" textLength="79.9" lengthAdjust="spacingAndGlyphs">Data</tspan> <tspan x="3624.5" y="2150.5" textLength="130.0" lengthAdjust="spacingAndGlyphs">Version:</tspan> <tspan x="3763.8" y="2150.5" textLength="74.2" lengthAdjust="spacingAndGlyphs">6.0.0</tspan></text>
<g id="logo">
<path d="M3529.0 17.7H3795.0A35 35 0 0 1 3830.0 52.7V223.3A168.0 168.0 0 0 1 3494.0 223.3V52.7A35 35 0 0 1 3529.0 17.7Z" fill="#e55b4d"/>
<path d="M3529.3 24.0H3794.7A29 29 0 0 1 3823.7 53.0V223.3A161.7 161.7 0 0 1 3500.3 223.3V53.0A29 29 0 0 1 3529.3 24.0Z" fill="#07548b"/>
<circle cx="3662.0" cy="219.8" r="141.0" fill="#c9cedb"/>
<clipPath id="lc"><circle cx="3662.0" cy="219.8" r="125.5"/></clipPath>
<clipPath id="le"><circle cx="3225.2" cy="563.5" r="559.2"/></clipPath>
<g clip-path="url(#lc)">
<circle cx="3662.0" cy="219.8" r="125.5" fill="#07548b"/>
<circle cx="3225.2" cy="563.5" r="565.7" fill="none" stroke="#1872aa" stroke-width="13"/>
<circle cx="3225.2" cy="563.5" r="559.2" fill="#07548b"/>
<g clip-path="url(#le)"><polygon points="3595.9,177.1 3617.4,176.2 3631.7,186.1 3644.3,200.4 3656.9,214.8 3662.6,225.6 3665.8,236.3 3666.2,245.3 3663.5,256.1 3668.2,262.3 3667.3,267.7 3663.1,265.9 3657.8,258.7 3651.5,258.7 3646.1,264.1 3642.9,274.0 3641.6,286.5 3644.3,296.4 3650.6,302.7 3660.4,304.8 3667.6,300.9 3673.0,297.3 3677.5,303.6 3683.8,311.7 3690.9,310.2 3696.3,301.8 3703.5,294.1 3710.7,290.5 3716.1,289.2 3739.4,333.2 3721.4,351.1 3695.4,351.1 3694.2,324.2 3689.1,316.1 3678.4,315.2 3667.6,308.1 3656.9,312.6 3646.1,315.2 3631.7,302.7 3619.2,293.7 3595.9,286.5" fill="#5ba16f" stroke="#5ba16f" stroke-width="2" stroke-linejoin="round"/></g>
<polygon points="3621.0,200.4 3629.1,203.1 3631.7,211.2 3628.2,217.5 3622.8,214.8 3623.7,207.6" fill="#07548b"/>
<polygon points="3631.7,207.6 3638.9,205.8 3644.3,210.3 3649.7,207.6 3653.3,213.0 3647.9,218.4 3642.5,216.6 3638.9,223.8 3634.4,225.6 3632.6,216.6" fill="#07548b"/>
<polygon points="3641.6,225.6 3646.1,223.8 3647.9,228.3 3643.4,230.9" fill="#07548b"/>
<path d="M3608.4 288.3 L3619.2 297.3 L3630.0 306.3" stroke="#5ba16f" stroke-width="2" fill="none"/>
<circle cx="3225.2" cy="563.5" r="559.2" fill="none" stroke="#e8f2fa" stroke-width="1.1"/>
<circle cx="3637.1" cy="144.7" r="24" fill="#c9cedb"/>
<clipPath id="lm"><circle cx="3637.1" cy="144.7" r="24"/></clipPath>
<g clip-path="url(#lm)"><circle cx="3641.5" cy="141" r="24.5" fill="#f6f7fb"/><ellipse cx="3630" cy="135" rx="9" ry="11" fill="#c3c8d6"/><ellipse cx="3643" cy="143" rx="7" ry="9" fill="#c3c8d6"/><ellipse cx="3636" cy="128" rx="5" ry="3.5" fill="#c3c8d6"/><circle cx="3648" cy="133" r="3.5" fill="#c3c8d6"/><ellipse cx="3634" cy="147" rx="4" ry="3" fill="#f6f7fb"/></g>
<circle cx="3735.3" cy="280.7" r="23.5" fill="#c9cedb"/>
<clipPath id="ls"><circle cx="3735.3" cy="280.7" r="23.5"/></clipPath>
<g clip-path="url(#ls)"><circle cx="3742" cy="277" r="26" fill="#ffdf98"/></g>
<path d="M3715.2 191.6L3654.5 159.5" stroke="#eef4fb" stroke-width="1.1"/>
<path d="M3715.2 191.6L3645 167" stroke="#eef4fb" stroke-width="1.1"/>
<path d="M3715.2 191.6L3669.9 224.2" stroke="#eef4fb" stroke-width="1.1"/>
<path d="M3715.2 191.6L3675.4 232.4" stroke="#eef4fb" stroke-width="1.1"/>
<path d="M3715.2 191.6L3722.8 258.6" stroke="#eef4fb" stroke-width="1.1"/>
<path d="M3715.2 191.6L3734.5 257.3" stroke="#eef4fb" stroke-width="1.1"/>
<path d="M3603 152 L3616 157 L3622 164Z" fill="#5fa0cf" opacity="0.7"/>
<g transform="translate(3728.2 179.0) rotate(45)">
<rect x="-26.7" y="-18.8" width="12.2" height="16.8" fill="#d9dee9"/>
<rect x="-24.00" y="-18.8" width="0.7" height="16.8" fill="#3b5f86"/>
<rect x="-20.95" y="-18.8" width="0.7" height="16.8" fill="#3b5f86"/>
<rect x="-17.90" y="-18.8" width="0.7" height="16.8" fill="#3b5f86"/>
<rect x="-26.7" y="2.0" width="12.2" height="16.8" fill="#d9dee9"/>
<rect x="-24.00" y="2.0" width="0.7" height="16.8" fill="#3b5f86"/>
<rect x="-20.95" y="2.0" width="0.7" height="16.8" fill="#3b5f86"/>
<rect x="-17.90" y="2.0" width="0.7" height="16.8" fill="#3b5f86"/>
<rect x="14.5" y="-18.8" width="12.2" height="16.8" fill="#d9dee9"/>
<rect x="17.20" y="-18.8" width="0.7" height="16.8" fill="#3b5f86"/>
<rect x="20.25" y="-18.8" width="0.7" height="16.8" fill="#3b5f86"/>
<rect x="23.30" y="-18.8" width="0.7" height="16.8" fill="#3b5f86"/>
<rect x="14.5" y="2.0" width="12.2" height="16.8" fill="#d9dee9"/>
<rect x="17.20" y="2.0" width="0.7" height="16.8" fill="#3b5f86"/>
<rect x="20.25" y="2.0" width="0.7" height="16.8" fill="#3b5f86"/>
<rect x="23.30" y="2.0" width="0.7" height="16.8" fill="#3b5f86"/>
<rect x="-22" y="-1.1" width="44" height="2.2" fill="#e8dccf"/>
<rect x="-8.9" y="0" width="1.8" height="11" fill="#d9dee9"/>
<rect x="-1.9" y="0" width="1.8" height="16" fill="#d9dee9"/>
<rect x="5.1" y="0" width="1.8" height="12" fill="#d9dee9"/>
<rect x="-13" y="7.2" width="17" height="1.7" fill="#d9dee9"/><rect x="2" y="-6" width="8" height="2" fill="#d9dee9"/><rect x="8.2" y="-6" width="1.8" height="6" fill="#d9dee9"/>
</g>
<path d="M3693.6 107.0L3695.1 115.0L3703.1 116.5L3695.1 118.0L3693.6 126.0L3692.1 118.0L3684.1 116.5L3692.1 115.0Z" fill="#ffe9a8"/>
<circle cx="3693.6" cy="116.5" r="2.2" fill="#ffd35a"/>
<path d="M3679.8 121.5L3680.8 126.7L3686.0 127.7L3680.8 128.7L3679.8 133.9L3678.8 128.7L3673.6000000000004 127.7L3678.8 126.7Z" fill="#f4f8ff"/>
<path d="M3703.6 126.80000000000001L3704.3 130.7L3708.2 131.4L3704.3 132.1L3703.6 136.0L3702.9 132.1L3699.0 131.4L3702.9 130.7Z" fill="#f4f8ff"/>
</g>
<g clip-path="url(#lc)"><polygon points="3535.0,228.0 3607.0,228.0 3608.0,336.0 3535.0,336.0" fill="#cf4a3b"/>
<polygon points="3549,250 3556,250 3565,342 3556,342" fill="#8a1c17" opacity="0.85"/>
<polygon points="3563.5,250 3569.6,250 3578,342 3570,342" fill="#8a1c17" opacity="0.85"/>
<polygon points="3579,250 3586,250 3594,342 3585,342" fill="#8a1c17" opacity="0.85"/>
<polygon points="3594.4,250 3600,250 3606,342 3599,342" fill="#8a1c17" opacity="0.85"/>
<polygon points="3559.5,262 3561.7,262 3569.6,342 3567,342" fill="#ea6353"/>
<polygon points="3574,262 3576.2,262 3584.1,342 3581.5,342" fill="#ea6353"/>
<polygon points="3590,262 3592.2,262 3599.6,342 3597,342" fill="#ea6353"/>
</g>
<polygon points="3561.9,148.0 3553.0,149.1 3547.5,152.4 3543.1,156.9 3536.4,165.7 3525.4,170.1 3518.8,178.9 3515.5,194.4 3512.1,211.0 3506.6,227.5 3501.7,237.5 3503.3,243.0 3516.6,237.5 3530.9,225.3 3538.7,212.1 3544.2,201.0 3547.5,207.7 3544.2,227.5 3538.7,255.0 3606.0,255.0 3607.7,216.5 3606.6,194.4 3609.9,191.6 3606.0,178.9 3599.4,165.7 3583.9,156.9 3571.8,150.2" fill="#cf4a3b"/>
<polygon points="3527.6,172.3 3522.1,180.0 3518.8,194.4 3514.9,215.4 3505.0,239.1 3516.6,233.1 3531.5,217.6 3538.1,201.0 3534.2,194.4 3530.4,182.3" fill="#8a1c17"/>
<path d="M3536.4 165.7 L3525.4 170.1 L3518.8 178.9 L3515.5 194.4 L3512.1 211.0 L3506.6 227.5 L3501.7 237.5" stroke="#ea6353" stroke-width="2.2" fill="none"/>
<polygon points="3547.5,153.5 3561.9,149.1 3571.8,152.4 3579.5,165.7 3581.7,178.9 3577.3,186.7 3568.5,183.4 3557.4,178.9 3550.8,171.2 3546.4,161.3" fill="#d9513f"/>
<polygon points="3550.8,171.2 3557.4,178.9 3568.5,183.4 3577.3,186.7 3586.1,191.1 3599.4,192.2 3606.0,194.4 3603.8,201.0 3588.4,198.8 3570.7,194.4 3557.4,187.8 3551.9,180.0" fill="#8a1c17" opacity="0.75"/>
<path d="M3568.5 199.9 L3570.1 209.9" stroke="#8a1c17" stroke-width="1.6" fill="none" opacity="0.8"/>
<path d="M3579.5 199.9 L3581.2 209.9" stroke="#8a1c17" stroke-width="1.6" fill="none" opacity="0.8"/>
<path d="M3590.6 199.9 L3592.2 209.9" stroke="#8a1c17" stroke-width="1.6" fill="none" opacity="0.8"/>
<path d="M3599.4 199.9 L3601.1 209.9" stroke="#8a1c17" stroke-width="1.6" fill="none" opacity="0.8"/>
<polygon points="3551.9,225.3 3557.4,225.3 3556.3,255.0 3549.1,255.0" fill="#8a1c17" opacity="0.85"/>
<polygon points="3566.3,225.3 3570.7,225.3 3569.6,255.0 3563.5,255.0" fill="#8a1c17" opacity="0.85"/>
<polygon points="3581.7,225.3 3587.3,225.3 3586.1,255.0 3579.0,255.0" fill="#8a1c17" opacity="0.85"/>
<polygon points="3597.2,225.3 3601.1,225.3 3600.0,255.0 3594.4,255.0" fill="#8a1c17" opacity="0.85"/>
<path d="M3555.8 207.1 L3566.3 212.6 L3577.3 215.9 L3587.3 218.1" stroke="#8a4a22" stroke-width="5.2" fill="none"/>
<polygon points="3587.3,216.5 3595.0,213.2 3602.7,217.6 3602.2,228.6 3593.9,232.5 3585.6,227.5" fill="#a85f2a"/>
<polygon points="3589.2,217.8 3595.0,215.4 3600.7,218.7 3600.3,227.3 3593.9,230.2 3587.7,226.4" fill="#6a1f14"/>
<text x="3594.1" y="226.4" font-size="11" font-style="italic" font-weight="bold" text-anchor="middle" fill="#a85f2a" font-family='"Liberation Serif", serif'>S</text>
<path d="M3534.5 123.2 L3540.9 172.3 L3546.4 206.6 L3552.5 255.0" stroke="#a85f2a" stroke-width="5.4" fill="none"/>
<path d="M3535.9 123.7 L3542.3 172.3 L3547.8 206.6 L3553.9 255.0" stroke="#d58b45" stroke-width="1.4" fill="none"/>
<path d="M3549.0 230.0 L3551.3 247.6 L3560.4 268.7 L3561.6 286.3 L3565.1 305.1" stroke="#d99a45" stroke-width="1.8" fill="none"/>
<circle cx="3532.6" cy="113.2" r="10.8" fill="#f2f4fa"/><circle cx="3533.5" cy="112.6" r="8.9" fill="#c9cedb"/>
<polygon points="3528.2,180.0 3535.3,175.1 3547.5,176.7 3549.9,186.7 3544.7,194.4 3538.7,196.8 3532.0,192.2" fill="#e8a56a"/>
<path d="M3536.4 182.3 L3546.4 183.4" stroke="#b5713c" stroke-width="1.2"/>
<polygon points="3599.4,165.7 3610.4,168.4 3617.6,171.2 3614.9,177.8 3609.3,179.5 3606.0,190.0 3602.2,183.4" fill="#7c2a1a"/>
<path d="M3610.4 168.8 L3604.9 183.4" stroke="#c9683a" stroke-width="1.3"/>
<polygon points="3609.3,179.5 3616.0,178.1 3615.5,190.0 3610.4,192.4 3607.5,186.9" fill="#e8a56a"/>
<polygon points="3559.6,144.7 3566.3,139.2 3577.3,133.1 3591.7,129.2 3601.6,131.4 3606.9,138.6 3604.9,144.1 3600.0,156.9 3598.9,161.3 3600.7,171.2 3600.7,178.9 3596.3,186.9 3588.4,190.2 3582.3,183.9 3579.7,172.3 3576.2,163.5 3570.7,156.9 3564.1,150.2" fill="#fbfbfd"/>
<polygon points="3588.4,134.2 3596.1,133.1 3603.3,137.2 3605.8,142.7 3602.2,150.2 3599.4,156.9 3592.8,155.2 3586.1,154.6 3581.7,151.3 3579.7,143.6 3582.8,137.5" fill="#e8a56a"/>
<polygon points="3579.7,143.6 3582.8,137.5 3588.4,134.2 3588.4,142.5 3587.3,152.4 3581.7,151.3" fill="#c9803f"/>
<polygon points="3587.3,155.2 3593.9,152.4 3599.4,155.5 3600.0,161.3 3593.9,160.2 3588.4,161.3" fill="#fbfbfd"/>
<path d="M3593.9 146.9 L3602.7 148.9" stroke="#5a3520" stroke-width="1.2"/>
<polygon points="3577.3,133.1 3586.1,131.4 3581.7,139.2 3579.0,144.7 3576.2,141.4" fill="#fbfbfd"/>
<g fill="#fff" font-family='"Liberation Serif", serif' font-weight="bold" font-size="39.3">
<text x="3527.6" y="59.2" textLength="173.5" lengthAdjust="spacingAndGlyphs">SAGE III</text>
<text x="3733.2" y="59.2" textLength="60.3" lengthAdjust="spacingAndGlyphs">ISS</text>
<text x="3716.2" y="57.6" font-size="36" text-anchor="middle">•</text>
</g>
<g fill="#e9eef6" font-size="7.9">
<text x="3527.8" y="71.5" textLength="173.7" lengthAdjust="spacingAndGlyphs">Stratospheric Aerosol and Gas Experiment III</text>
<text x="3737.3" y="71.5" textLength="52" lengthAdjust="spacingAndGlyphs">International</text>
<text x="3733.6" y="82.7" textLength="59.4" lengthAdjust="spacingAndGlyphs">Space Station</text>
</g>
<path id="lt" d="M3509.5 256.4A156.8 156.8 0 0 0 3818.1 234.8" fill="none"/>
<text font-size="15.4" font-weight="bold" fill="#fff" textLength="440.6" lengthAdjust="spacing"><textPath href="#lt" textLength="440.6" lengthAdjust="spacing">BALL • NASA LANGLEY RESEARCH CENTER • TAS-I • ESA</textPath></text>
</g>
</svg>
</body></html>
